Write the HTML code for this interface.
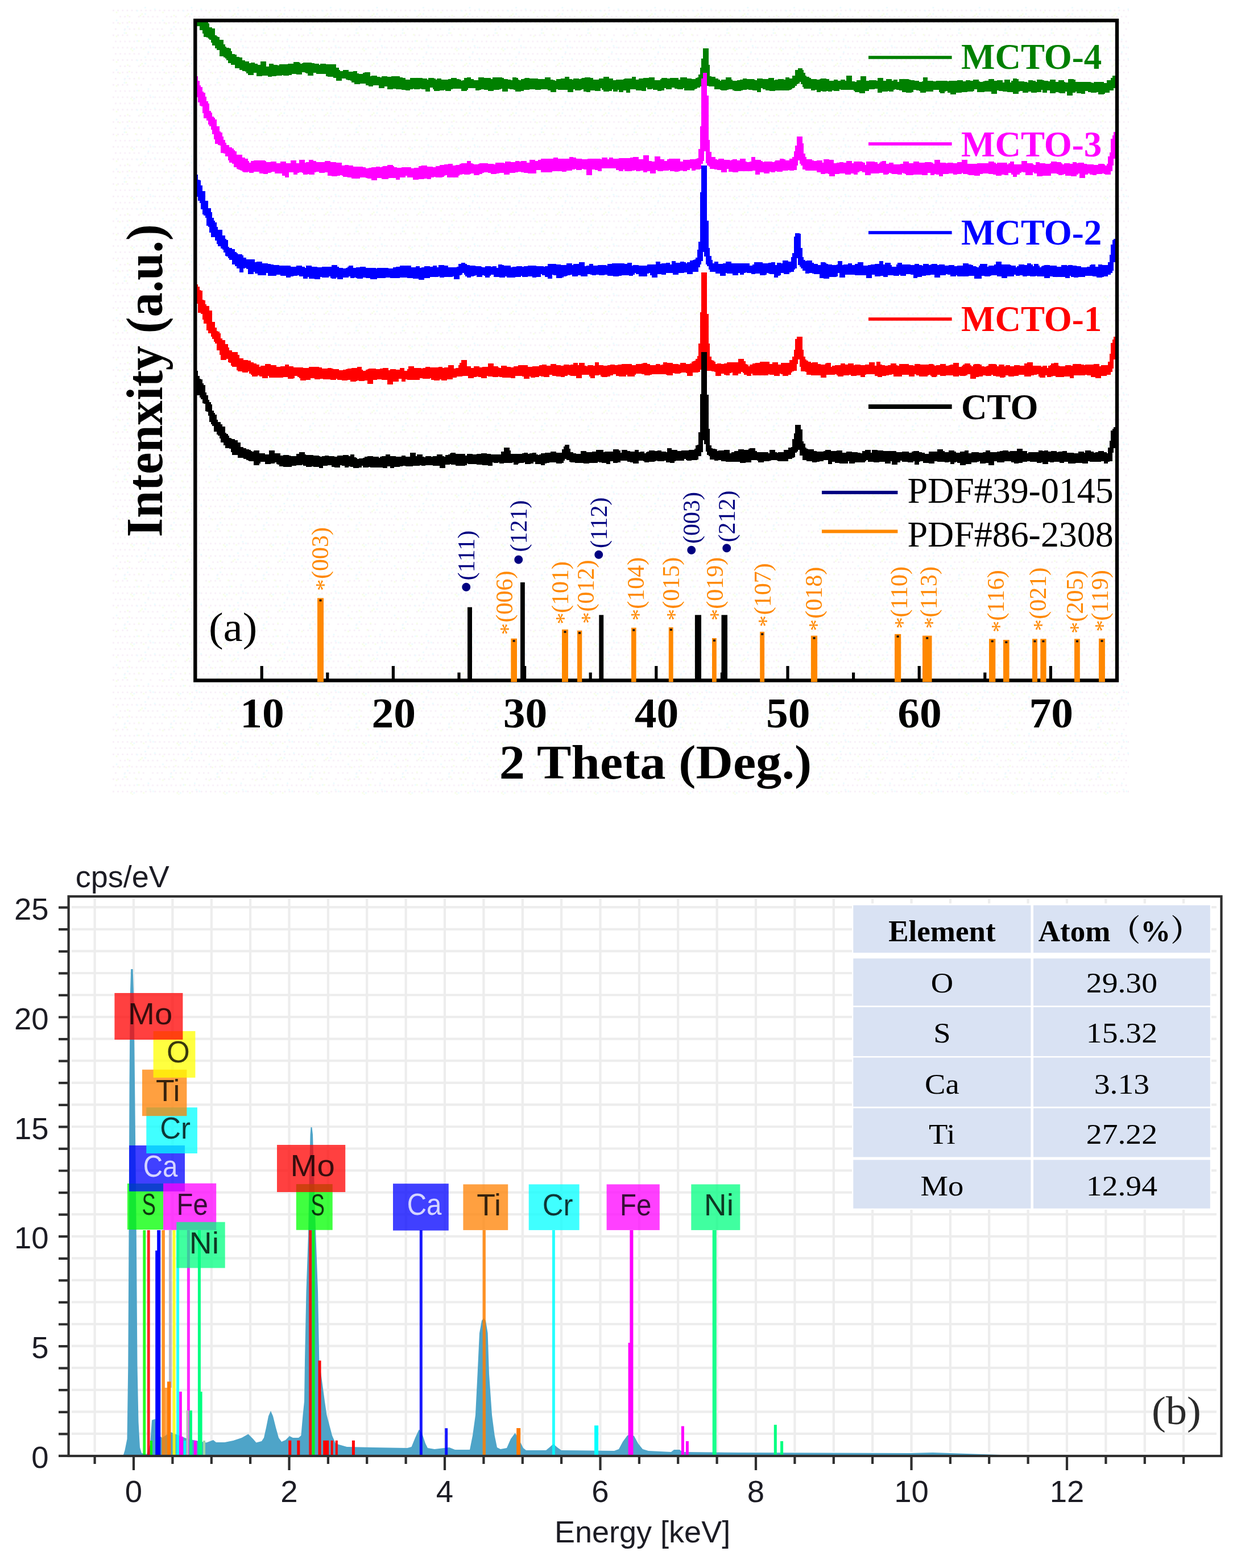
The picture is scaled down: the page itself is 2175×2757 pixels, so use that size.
<!DOCTYPE html>
<html lang="en"><head><meta charset="utf-8"><title>XRD patterns and EDS spectrum</title>
<style>html,body{margin:0;padding:0;background:#fff}body{width:2175px;height:2757px;overflow:hidden}svg{display:block}.se{font-family:"Liberation Serif","Noto Serif CJK SC",serif}.sa{font-family:"Liberation Sans",sans-serif}.dj{font-family:"DejaVu Sans","Liberation Sans",sans-serif}</style></head><body>
<svg width="2175" height="2757" viewBox="0 0 2175 2757">
<rect width="2175" height="2757" fill="#fff"/>
<g id="xrd">
<defs><pattern id="dz" x="198" y="12" width="81.5" height="87.2" patternUnits="userSpaceOnUse"><rect x="0" y="5" width="2.8" height="2.8" fill="#f8eff8"/><rect x="8.2" y="5" width="2.8" height="2.8" fill="#f8eff8"/><rect x="16.3" y="5" width="2.8" height="2.8" fill="#f8eff8"/><rect x="24.5" y="5" width="2.8" height="2.8" fill="#f8eff8"/><rect x="32.6" y="5" width="2.8" height="2.8" fill="#f8eff8"/><rect x="40.8" y="5" width="2.8" height="2.8" fill="#f8eff8"/><rect x="48.9" y="5" width="2.8" height="2.8" fill="#f8eff8"/><rect x="57.1" y="5" width="2.8" height="2.8" fill="#f8eff8"/><rect x="65.2" y="5" width="2.8" height="2.8" fill="#f8eff8"/><rect x="73.4" y="5" width="2.8" height="2.8" fill="#f8eff8"/><rect x="12.2" y="15.9" width="2.8" height="2.8" fill="#f8eff8"/><rect x="20.3" y="15.9" width="2.8" height="2.8" fill="#f8eff8"/><rect x="28.5" y="15.9" width="2.8" height="2.8" fill="#f8eff8"/><rect x="44.8" y="15.9" width="2.8" height="2.8" fill="#f8eff8"/><rect x="52.9" y="15.9" width="2.8" height="2.8" fill="#f8eff8"/><rect x="61.1" y="15.9" width="2.8" height="2.8" fill="#f8eff8"/><rect x="69.2" y="15.9" width="2.8" height="2.8" fill="#f8eff8"/><rect x="77.4" y="15.9" width="2.8" height="2.8" fill="#f8eff8"/><rect x="0" y="26.8" width="2.8" height="2.8" fill="#f8eff8"/><rect x="8.2" y="26.8" width="2.8" height="2.8" fill="#f8eff8"/><rect x="16.3" y="26.8" width="2.8" height="2.8" fill="#f8eff8"/><rect x="24.5" y="26.8" width="2.8" height="2.8" fill="#f8eff8"/><rect x="32.6" y="26.8" width="2.8" height="2.8" fill="#f8eff8"/><rect x="40.8" y="26.8" width="2.8" height="2.8" fill="#f8eff8"/><rect x="48.9" y="26.8" width="2.8" height="2.8" fill="#f8eff8"/><rect x="57.1" y="26.8" width="2.8" height="2.8" fill="#f8eff8"/><rect x="65.2" y="26.8" width="2.8" height="2.8" fill="#f8eff8"/><rect x="73.4" y="26.8" width="2.8" height="2.8" fill="#f8eff8"/><rect x="4" y="37.7" width="2.8" height="2.8" fill="#f8eff8"/><rect x="20.3" y="37.7" width="2.8" height="2.8" fill="#f8eff8"/><rect x="28.5" y="37.7" width="2.8" height="2.8" fill="#f8eff8"/><rect x="36.6" y="37.7" width="2.8" height="2.8" fill="#f8eff8"/><rect x="44.8" y="37.7" width="2.8" height="2.8" fill="#f8eff8"/><rect x="52.9" y="37.7" width="2.8" height="2.8" fill="#f8eff8"/><rect x="69.2" y="37.7" width="2.8" height="2.8" fill="#f8eff8"/><rect x="77.4" y="37.7" width="2.8" height="2.8" fill="#f8eff8"/><rect x="0" y="48.6" width="2.8" height="2.8" fill="#f8eff8"/><rect x="8.2" y="48.6" width="2.8" height="2.8" fill="#f8eff8"/><rect x="16.3" y="48.6" width="2.8" height="2.8" fill="#f8eff8"/><rect x="24.5" y="48.6" width="2.8" height="2.8" fill="#f8eff8"/><rect x="40.8" y="48.6" width="2.8" height="2.8" fill="#f8eff8"/><rect x="48.9" y="48.6" width="2.8" height="2.8" fill="#f8eff8"/><rect x="65.2" y="48.6" width="2.8" height="2.8" fill="#f8eff8"/><rect x="4" y="59.5" width="2.8" height="2.8" fill="#f8eff8"/><rect x="12.2" y="59.5" width="2.8" height="2.8" fill="#f8eff8"/><rect x="20.3" y="59.5" width="2.8" height="2.8" fill="#f8eff8"/><rect x="28.5" y="59.5" width="2.8" height="2.8" fill="#f8eff8"/><rect x="36.6" y="59.5" width="2.8" height="2.8" fill="#f8eff8"/><rect x="52.9" y="59.5" width="2.8" height="2.8" fill="#f8eff8"/><rect x="61.1" y="59.5" width="2.8" height="2.8" fill="#f8eff8"/><rect x="69.2" y="59.5" width="2.8" height="2.8" fill="#f8eff8"/><rect x="77.4" y="59.5" width="2.8" height="2.8" fill="#f8eff8"/><rect x="0" y="70.4" width="2.8" height="2.8" fill="#f8eff8"/><rect x="8.2" y="70.4" width="2.8" height="2.8" fill="#f8eff8"/><rect x="16.3" y="70.4" width="2.8" height="2.8" fill="#f8eff8"/><rect x="24.5" y="70.4" width="2.8" height="2.8" fill="#f8eff8"/><rect x="32.6" y="70.4" width="2.8" height="2.8" fill="#f8eff8"/><rect x="40.8" y="70.4" width="2.8" height="2.8" fill="#f8eff8"/><rect x="48.9" y="70.4" width="2.8" height="2.8" fill="#f8eff8"/><rect x="57.1" y="70.4" width="2.8" height="2.8" fill="#f8eff8"/><rect x="65.2" y="70.4" width="2.8" height="2.8" fill="#f8eff8"/><rect x="73.4" y="70.4" width="2.8" height="2.8" fill="#f8eff8"/><rect x="4" y="81.3" width="2.8" height="2.8" fill="#f8eff8"/><rect x="12.2" y="81.3" width="2.8" height="2.8" fill="#f8eff8"/><rect x="20.3" y="81.3" width="2.8" height="2.8" fill="#f8eff8"/><rect x="28.5" y="81.3" width="2.8" height="2.8" fill="#f8eff8"/><rect x="36.6" y="81.3" width="2.8" height="2.8" fill="#f8eff8"/><rect x="44.8" y="81.3" width="2.8" height="2.8" fill="#f8eff8"/><rect x="61.1" y="81.3" width="2.8" height="2.8" fill="#f8eff8"/><rect x="69.2" y="81.3" width="2.8" height="2.8" fill="#f8eff8"/><rect x="77.4" y="81.3" width="2.8" height="2.8" fill="#f8eff8"/><rect x="5.6" y="22.4" width="2.8" height="2.8" fill="#ebfbff"/><rect x="42" y="5.6" width="2.8" height="2.8" fill="#ebfbff"/><rect x="70" y="70" width="2.8" height="2.8" fill="#ebfbff"/><rect x="42" y="58.8" width="2.8" height="2.8" fill="#ebfbff"/><rect x="56" y="0" width="2.8" height="2.8" fill="#ebfbff"/><rect x="72.8" y="2.8" width="2.8" height="2.8" fill="#ebfbff"/><rect x="64.4" y="67.2" width="2.8" height="2.8" fill="#ebfbff"/><rect x="56" y="11.2" width="2.8" height="2.8" fill="#ebfbff"/><rect x="61.6" y="78.4" width="2.8" height="2.8" fill="#ebfbff"/><rect x="61.6" y="56" width="2.8" height="2.8" fill="#ebfbff"/><rect x="19.6" y="44.8" width="2.8" height="2.8" fill="#ebfbff"/><rect x="36.4" y="72.8" width="2.8" height="2.8" fill="#ebfbff"/><rect x="25.2" y="33.6" width="2.8" height="2.8" fill="#ebfbff"/><rect x="19.6" y="39.2" width="2.8" height="2.8" fill="#ebfbff"/><rect x="44.8" y="36.4" width="2.8" height="2.8" fill="#f6ffe6"/><rect x="22.4" y="44.8" width="2.8" height="2.8" fill="#f6ffe6"/><rect x="47.6" y="14" width="2.8" height="2.8" fill="#f6ffe6"/><rect x="44.8" y="58.8" width="2.8" height="2.8" fill="#f6ffe6"/><rect x="5.6" y="50.4" width="2.8" height="2.8" fill="#f6ffe6"/><rect x="33.6" y="75.6" width="2.8" height="2.8" fill="#f6ffe6"/><rect x="28" y="25.2" width="2.8" height="2.8" fill="#f6ffe6"/><rect x="53.2" y="72.8" width="2.8" height="2.8" fill="#f6ffe6"/><rect x="5.6" y="8.4" width="2.8" height="2.8" fill="#f6ffe6"/><rect x="11.2" y="28" width="2.8" height="2.8" fill="#f6ffe6"/><rect x="39.2" y="47.6" width="2.8" height="2.8" fill="#f6ffe6"/><rect x="30.8" y="72.8" width="2.8" height="2.8" fill="#f6ffe6"/><rect x="50.4" y="11.2" width="2.8" height="2.8" fill="#f6ffe6"/><rect x="25.2" y="14" width="2.8" height="2.8" fill="#f6ffe6"/></pattern></defs>
<rect x="198" y="12" width="1787" height="1385.5" fill="url(#dz)"/>
<clipPath id="cp"><rect x="343.3" y="36.0" width="1620.7" height="1160.4"/></clipPath>
<g clip-path="url(#cp)" shape-rendering="crispEdges">
<path d="M338,24V24H340.5V24H343V23H345.5V22H348V22H350.5V22H353V22H355.5V30H358V36H360.5V36H363V36H365.5V41H368V48H370.5V48H373V50H375.5V50H378V62H380.5V64H383V65H385.5V70H388V70H390.5V70H393V78H395.5V82H398V84H400.5V84H403V85H405.5V90H408V95H410.5V95H413V96H415.5V100H418V100H420.5V101H423V101H425.5V106H428V106H430.5V108H433V108H435.5V108H438V111H440.5V110H443V110H445.5V110H448V112H450.5V112H453V114H455.5V114H458V108H460.5V108H463V108H465.5V108H468V117H470.5V117H473V112H475.5V112H478V112H480.5V114H483V114H485.5V114H488V115H490.5V113H493V113H495.5V113H498V113H500.5V113H503V113H505.5V112H508V112H510.5V112H513V112H515.5V109H518V109H520.5V109H523V109H525.5V110H528V112H530.5V111H533V110H535.5V110H538V110H540.5V110H543V110H545.5V110H548V111H550.5V111H553V112H555.5V112H558V112H560.5V114H563V112H565.5V112H568V112H570.5V112H573V113H575.5V113H578V113H580.5V113H583V113H585.5V113H588V113H590.5V119H593V119H595.5V123H598V125H600.5V125H603V123H605.5V123H608V123H610.5V123H613V126H615.5V126H618V126H620.5V125H623V125H625.5V125H628V129H630.5V130H633V130H635.5V130H638V128H640.5V127H643V127H645.5V127H648V127H650.5V134H653V133H655.5V133H658V133H660.5V133H663V135H665.5V135H668V136H670.5V134H673V134H675.5V134H678V134H680.5V135H683V135H685.5V135H688V134H690.5V134H693V134H695.5V134H698V134H700.5V134H703V136H705.5V136H708V137H710.5V137H713V140H715.5V140H718V140H720.5V137H723V137H725.5V137H728V137H730.5V137H733V137H735.5V137H738V137H740.5V137H743V138H745.5V138H748V138H750.5V140H753V137H755.5V137H758V137H760.5V137H763V138H765.5V140H768V138H770.5V138H773V138H775.5V140H778V140H780.5V140H783V140H785.5V140H788V139H790.5V139H793V137H795.5V137H798V137H800.5V137H803V139H805.5V139H808V140H810.5V142H813V141H815.5V137H818V137H820.5V136H823V136H825.5V136H828V139H830.5V139H833V141H835.5V141H838V141H840.5V136H843V136H845.5V136H848V136H850.5V137H853V137H855.5V137H858V137H860.5V137H863V139H865.5V136H868V136H870.5V136H873V136H875.5V136H878V136H880.5V136H883V137H885.5V139H888V139H890.5V139H893V140H895.5V140H898V141H900.5V136H903V136H905.5V136H908V137H910.5V140H913V141H915.5V139H918V139H920.5V138H923V137H925.5V137H928V137H930.5V138H933V138H935.5V138H938V138H940.5V138H943V138H945.5V139H948V139H950.5V139H953V139H955.5V139H958V136H960.5V136H963V136H965.5V136H968V140H970.5V140H973V141H975.5V142H978V139H980.5V139H983V139H985.5V138H988V138H990.5V138H993V135H995.5V135H998V135H1000.5V139H1003V139H1005.5V140H1008V138H1010.5V138H1013V138H1015.5V138H1018V139H1020.5V138H1023V137H1025.5V137H1028V136H1030.5V136H1033V136H1035.5V136H1038V137H1040.5V137H1043V140H1045.5V140H1048V140H1050.5V140H1053V138H1055.5V138H1058V138H1060.5V135H1063V135H1065.5V135H1068V135H1070.5V138H1073V138H1075.5V138H1078V141H1080.5V141H1083V140H1085.5V140H1088V140H1090.5V140H1093V140H1095.5V139H1098V138H1100.5V138H1103V138H1105.5V138H1108V138H1110.5V135H1113V135H1115.5V135H1118V140H1120.5V140H1123V138H1125.5V138H1128V138H1130.5V137H1133V137H1135.5V137H1138V137H1140.5V136H1143V136H1145.5V136H1148V136H1150.5V141H1153V141H1155.5V141H1158V141H1160.5V139H1163V137H1165.5V137H1168V137H1170.5V137H1173V138H1175.5V138H1178V137H1180.5V137H1183V137H1185.5V137H1188V137H1190.5V137H1193V140H1195.5V136H1198V136H1200.5V136H1203V136H1205.5V136H1208V138H1210.5V138H1213V138H1215.5V139H1218V139H1220.5V139H1223V137H1225.5V136H1228V131H1230.5V119H1233V103H1235.5V85H1238V85H1240.5V85H1243V85H1245.5V114H1248V134H1250.5V135H1253V135H1255.5V135H1258V138H1260.5V138H1263V140H1265.5V142H1268V140H1270.5V140H1273V140H1275.5V136H1278V136H1280.5V136H1283V136H1285.5V140H1288V142H1290.5V142H1293V142H1295.5V141H1298V141H1300.5V140H1303V140H1305.5V138H1308V138H1310.5V138H1313V139H1315.5V139H1318V139H1320.5V139H1323V139H1325.5V140H1328V141H1330.5V138H1333V138H1335.5V138H1338V138H1340.5V139H1343V139H1345.5V139H1348V139H1350.5V137H1353V137H1355.5V137H1358V137H1360.5V141H1363V140H1365.5V140H1368V139H1370.5V139H1373V139H1375.5V139H1378V140H1380.5V136H1383V136H1385.5V136H1388V138H1390.5V138H1393V133H1395.5V133H1398V123H1400.5V123H1403V120H1405.5V120H1408V120H1410.5V123H1413V128H1415.5V133H1418V135H1420.5V135H1423V137H1425.5V139H1428V139H1430.5V139H1433V139H1435.5V140H1438V140H1440.5V139H1443V138H1445.5V138H1448V138H1450.5V138H1453V139H1455.5V139H1458V142H1460.5V142H1463V142H1465.5V140H1468V140H1470.5V140H1473V142H1475.5V142H1478V140H1480.5V140H1483V140H1485.5V142H1488V133H1490.5V133H1493V133H1495.5V133H1498V143H1500.5V143H1503V144H1505.5V141H1508V141H1510.5V141H1513V134H1515.5V134H1518V134H1520.5V134H1523V142H1525.5V142H1528V141H1530.5V141H1533V141H1535.5V141H1538V141H1540.5V142H1543V137H1545.5V137H1548V137H1550.5V137H1553V142H1555.5V142H1558V139H1560.5V139H1563V139H1565.5V139H1568V142H1570.5V140H1573V140H1575.5V140H1578V144H1580.5V139H1583V139H1585.5V139H1588V139H1590.5V139H1593V139H1595.5V139H1598V140H1600.5V141H1603V141H1605.5V141H1608V142H1610.5V142H1613V142H1615.5V144H1618V144H1620.5V143H1623V136H1625.5V136H1628V136H1630.5V142H1633V142H1635.5V142H1638V142H1640.5V143H1643V143H1645.5V142H1648V142H1650.5V142H1653V142H1655.5V142H1658V142H1660.5V142H1663V142H1665.5V143H1668V142H1670.5V142H1673V142H1675.5V142H1678V142H1680.5V142H1683V141H1685.5V141H1688V141H1690.5V141H1693V143H1695.5V143H1698V141H1700.5V141H1703V141H1705.5V142H1708V142H1710.5V140H1713V140H1715.5V140H1718V140H1720.5V143H1723V144H1725.5V144H1728V143H1730.5V142H1733V142H1735.5V142H1738V139H1740.5V139H1743V139H1745.5V139H1748V142H1750.5V142H1753V141H1755.5V141H1758V141H1760.5V141H1763V145H1765.5V140H1768V140H1770.5V140H1773V140H1775.5V145H1778V142H1780.5V138H1783V138H1785.5V138H1788V139H1790.5V143H1793V143H1795.5V143H1798V143H1800.5V144H1803V144H1805.5V145H1808V141H1810.5V141H1813V141H1815.5V142H1818V142H1820.5V144H1823V140H1825.5V140H1828V140H1830.5V140H1833V141H1835.5V142H1838V142H1840.5V142H1843V143H1845.5V140H1848V140H1850.5V140H1853V140H1855.5V144H1858V144H1860.5V141H1863V141H1865.5V141H1868V141H1870.5V144H1873V145H1875.5V145H1878V139H1880.5V139H1883V139H1885.5V139H1888V140H1890.5V144H1893V144H1895.5V144H1898V144H1900.5V144H1903V144H1905.5V144H1908V144H1910.5V144H1913V144H1915.5V144H1918V145H1920.5V146H1923V144H1925.5V144H1928V144H1930.5V144H1933V144H1935.5V144H1938V144H1940.5V146H1943V146H1945.5V141H1948V141H1950.5V141H1953V137H1955.5V133H1958V133H1960.5V133H1963V133H1965.5V24H1968V150H1965.5V150H1963V150H1960.5V155H1958V159H1955.5V159H1953V159H1950.5V163H1948V163H1945.5V163H1943V165H1940.5V166H1938V166H1935.5V166H1933V166H1930.5V162H1928V163H1925.5V163H1923V163H1920.5V163H1918V162H1915.5V162H1913V160H1910.5V160H1908V165H1905.5V165H1903V165H1900.5V164H1898V164H1895.5V164H1893V161H1890.5V163H1888V163H1885.5V168H1883V168H1880.5V168H1878V168H1875.5V161H1873V164H1870.5V164H1868V164H1865.5V164H1863V163H1860.5V162H1858V162H1855.5V164H1853V164H1850.5V164H1848V164H1845.5V159H1843V159H1840.5V163H1838V163H1835.5V163H1833V158H1830.5V162H1828V162H1825.5V162H1823V163H1820.5V163H1818V163H1815.5V163H1813V161H1810.5V161H1808V163H1805.5V163H1803V163H1800.5V163H1798V160H1795.5V160H1793V161H1790.5V165H1788V165H1785.5V165H1783V165H1780.5V162H1778V162H1775.5V162H1773V162H1770.5V161H1768V161H1765.5V161H1763V160H1760.5V160H1758V160H1755.5V159H1753V165H1750.5V165H1748V165H1745.5V165H1743V161H1740.5V161H1738V161H1735.5V161H1733V161H1730.5V162H1728V162H1725.5V162H1723V162H1720.5V162H1718V157H1715.5V157H1713V160H1710.5V161H1708V161H1705.5V161H1703V161H1700.5V162H1698V162H1695.5V162H1693V162H1690.5V163H1688V163H1685.5V163H1683V163H1680.5V166H1678V166H1675.5V166H1673V166H1670.5V163H1668V163H1665.5V160H1663V161H1660.5V164H1658V164H1655.5V164H1653V162H1650.5V158H1648V158H1645.5V158H1643V158H1640.5V161H1638V161H1635.5V161H1633V161H1630.5V161H1628V163H1625.5V163H1623V163H1620.5V163H1618V160H1615.5V159H1613V159H1610.5V158H1608V158H1605.5V162H1603V163H1600.5V163H1598V163H1595.5V163H1593V162H1590.5V162H1588V162H1585.5V159H1583V159H1580.5V158H1578V158H1575.5V157H1573V158H1570.5V161H1568V161H1565.5V161H1563V160H1560.5V161H1558V161H1555.5V161H1553V161H1550.5V163H1548V163H1545.5V163H1543V156H1540.5V156H1538V157H1535.5V157H1533V157H1530.5V157H1528V160H1525.5V160H1523V160H1520.5V164H1518V164H1515.5V164H1513V164H1510.5V162H1508V162H1505.5V162H1503V160H1500.5V158H1498V158H1495.5V158H1493V158H1490.5V158H1488V158H1485.5V158H1483V158H1480.5V158H1478V157H1475.5V160H1473V160H1470.5V160H1468V160H1465.5V159H1463V161H1460.5V161H1458V161H1455.5V160H1453V161H1450.5V161H1448V161H1445.5V160H1443V162H1440.5V162H1438V162H1435.5V158H1433V159H1430.5V159H1428V159H1425.5V156H1423V156H1420.5V156H1418V156H1415.5V156H1413V153H1410.5V148H1408V144H1405.5V147H1403V148H1400.5V151H1398V154H1395.5V155H1393V157H1390.5V158H1388V159H1385.5V159H1383V159H1380.5V159H1378V159H1375.5V159H1373V159H1370.5V159H1368V159H1365.5V159H1363V160H1360.5V160H1358V160H1355.5V160H1353V159H1350.5V159H1348V159H1345.5V157H1343V157H1340.5V155H1338V162H1335.5V162H1333V162H1330.5V159H1328V159H1325.5V159H1323V158H1320.5V158H1318V158H1315.5V157H1313V158H1310.5V158H1308V158H1305.5V159H1303V160H1300.5V160H1298V160H1295.5V160H1293V160H1290.5V159H1288V157H1285.5V157H1283V157H1280.5V158H1278V159H1275.5V159H1273V159H1270.5V159H1268V158H1265.5V157H1263V157H1260.5V157H1258V157H1255.5V152H1253V152H1250.5V152H1248V152H1245.5V151H1243V145H1240.5V139H1238V143H1235.5V151H1233V152H1230.5V154H1228V154H1225.5V156H1223V157H1220.5V159H1218V159H1215.5V159H1213V159H1210.5V159H1208V159H1205.5V159H1203V155H1200.5V157H1198V157H1195.5V157H1193V157H1190.5V156H1188V156H1185.5V154H1183V154H1180.5V157H1178V157H1175.5V157H1173V157H1170.5V155H1168V159H1165.5V159H1163V160H1160.5V160H1158V160H1155.5V158H1153V158H1150.5V158H1148V156H1145.5V157H1143V157H1140.5V157H1138V154H1135.5V160H1133V160H1130.5V160H1128V159H1125.5V159H1123V159H1120.5V159H1118V157H1115.5V157H1113V157H1110.5V157H1108V163H1105.5V163H1103V163H1100.5V159H1098V159H1095.5V162H1093V162H1090.5V162H1088V158H1085.5V161H1083V161H1080.5V161H1078V157H1075.5V160H1073V160H1070.5V161H1068V161H1065.5V161H1063V161H1060.5V158H1058V155H1055.5V160H1053V160H1050.5V160H1048V160H1045.5V159H1043V159H1040.5V159H1038V162H1035.5V162H1033V162H1030.5V161H1028V161H1025.5V157H1023V158H1020.5V159H1018V159H1015.5V159H1013V159H1010.5V157H1008V162H1005.5V162H1003V162H1000.5V162H998V158H995.5V158H993V158H990.5V158H988V158H985.5V158H983V158H980.5V157H978V162H975.5V162H973V162H970.5V162H968V159H965.5V159H963V157H960.5V157H958V157H955.5V157H953V157H950.5V158H948V158H945.5V158H943V158H940.5V157H938V157H935.5V157H933V157H930.5V158H928V158H925.5V158H923V158H920.5V160H918V160H915.5V161H913V161H910.5V161H908V161H905.5V158H903V157H900.5V157H898V157H895.5V156H893V161H890.5V161H888V161H885.5V161H883V156H880.5V157H878V158H875.5V158H873V158H870.5V158H868V160H865.5V160H863V160H860.5V160H858V158H855.5V158H853V158H850.5V157H848V157H845.5V158H843V159H840.5V159H838V159H835.5V155H833V155H830.5V155H828V155H825.5V155H823V158H820.5V160H818V160H815.5V160H813V160H810.5V156H808V156H805.5V156H803V156H800.5V156H798V156H795.5V157H793V160H790.5V160H788V160H785.5V160H783V158H780.5V159H778V159H775.5V159H773V160H770.5V160H768V160H765.5V160H763V157H760.5V154H758V154H755.5V161H753V161H750.5V161H748V157H745.5V157H743V157H740.5V156H738V157H735.5V157H733V157H730.5V157H728V156H725.5V157H723V157H720.5V159H718V159H715.5V159H713V158H710.5V158H708V158H705.5V157H703V157H700.5V157H698V157H695.5V156H693V156H690.5V157H688V157H685.5V157H683V157H680.5V152H678V152H675.5V155H673V155H670.5V155H668V155H665.5V150H663V150H660.5V150H658V150H655.5V152H653V152H650.5V152H648V150H645.5V150H643V147H640.5V147H638V147H635.5V147H633V148H630.5V148H628V148H625.5V148H623V145H620.5V145H618V142H615.5V141H613V141H610.5V140H608V138H605.5V138H603V138H600.5V142H598V142H595.5V142H593V142H590.5V137H588V137H585.5V135H583V135H580.5V135H578V135H575.5V134H573V130H570.5V130H568V130H565.5V130H563V130H560.5V130H558V130H555.5V128H553V128H550.5V133H548V133H545.5V133H543V133H540.5V129H538V128H535.5V127H533V127H530.5V131H528V131H525.5V131H523V131H520.5V130H518V130H515.5V130H513V132H510.5V132H508V133H505.5V133H503V133H500.5V133H498V132H495.5V133H493V133H490.5V133H488V133H485.5V134H483V134H480.5V134H478V135H475.5V135H473V135H470.5V133H468V133H465.5V133H463V133H460.5V134H458V134H455.5V134H453V134H450.5V128H448V128H445.5V132H443V132H440.5V132H438V132H435.5V129H433V126H430.5V125H428V125H425.5V123H423V123H420.5V120H418V120H415.5V120H413V114H410.5V114H408V114H405.5V111H403V111H400.5V106H398V103H395.5V101H393V99H390.5V99H388V99H385.5V88H383V88H380.5V85H378V80H375.5V80H373V75H370.5V70H368V68H365.5V66H363V65H360.5V65H358V59H355.5V53H353V53H350.5V46H348V46H345.5V47H343V47H340.5V150H338Z" fill="#008000"/>
<path d="M338,126V126H340.5V126H343V133H345.5V134H348V142H350.5V150H353V153H355.5V161H358V163H360.5V170H363V178H365.5V182H368V195H370.5V198H373V205H375.5V207H378V210H380.5V222H383V222H385.5V231H388V233H390.5V240H393V246H395.5V251H398V255H400.5V255H403V259H405.5V259H408V261H410.5V264H413V266H415.5V272H418V272H420.5V272H423V272H425.5V277H428V277H430.5V279H433V279H435.5V283H438V286H440.5V283H443V283H445.5V282H448V282H450.5V282H453V282H455.5V282H458V282H460.5V282H463V282H465.5V283H468V285H470.5V285H473V285H475.5V284H478V284H480.5V284H483V284H485.5V287H488V287H490.5V287H493V284H495.5V284H498V284H500.5V284H503V287H505.5V287H508V287H510.5V282H513V282H515.5V282H518V282H520.5V287H523V287H525.5V281H528V281H530.5V281H533V281H535.5V286H538V285H540.5V285H543V281H545.5V281H548V281H550.5V283H553V283H555.5V285H558V285H560.5V285H563V285H565.5V285H568V285H570.5V283H573V283H575.5V283H578V283H580.5V285H583V285H585.5V285H588V285H590.5V286H593V286H595.5V286H598V286H600.5V291H603V291H605.5V290H608V290H610.5V290H613V291H615.5V291H618V291H620.5V293H623V293H625.5V293H628V293H630.5V293H633V293H635.5V293H638V294H640.5V294H643V296H645.5V296H648V295H650.5V295H653V294H655.5V294H658V294H660.5V293H663V293H665.5V293H668V294H670.5V293H673V292H675.5V292H678V292H680.5V290H683V290H685.5V290H688V290H690.5V292H693V294H695.5V294H698V295H700.5V295H703V295H705.5V294H708V294H710.5V294H713V294H715.5V294H718V294H720.5V294H723V296H725.5V296H728V295H730.5V295H733V295H735.5V292H738V292H740.5V291H743V291H745.5V291H748V291H750.5V293H753V293H755.5V293H758V293H760.5V294H763V294H765.5V292H768V292H770.5V292H773V290H775.5V290H778V290H780.5V289H783V289H785.5V289H788V288H790.5V288H793V288H795.5V291H798V291H800.5V290H803V290H805.5V290H808V288H810.5V287H813V287H815.5V287H818V287H820.5V283H823V283H825.5V283H828V287H830.5V288H833V289H835.5V289H838V289H840.5V288H843V287H845.5V287H848V287H850.5V287H853V287H855.5V287H858V288H860.5V288H863V288H865.5V288H868V289H870.5V286H873V286H875.5V286H878V286H880.5V286H883V286H885.5V287H888V284H890.5V284H893V284H895.5V284H898V285H900.5V285H903V285H905.5V283H908V283H910.5V283H913V284H915.5V283H918V283H920.5V283H923V283H925.5V286H928V286H930.5V281H933V281H935.5V281H938V281H940.5V283H943V283H945.5V281H948V281H950.5V279H953V279H955.5V279H958V279H960.5V279H963V279H965.5V279H968V279H970.5V279H973V277H975.5V277H978V277H980.5V279H983V279H985.5V279H988V279H990.5V279H993V279H995.5V279H998V279H1000.5V276H1003V276H1005.5V276H1008V277H1010.5V277H1013V279H1015.5V279H1018V279H1020.5V279H1023V280H1025.5V280H1028V280H1030.5V280H1033V279H1035.5V279H1038V279H1040.5V279H1043V279H1045.5V279H1048V279H1050.5V279H1053V279H1055.5V280H1058V277H1060.5V277H1063V277H1065.5V277H1068V280H1070.5V277H1073V277H1075.5V277H1078V279H1080.5V279H1083V279H1085.5V279H1088V278H1090.5V278H1093V278H1095.5V278H1098V278H1100.5V278H1103V278H1105.5V278H1108V277H1110.5V277H1113V276H1115.5V276H1118V276H1120.5V276H1123V280H1125.5V280H1128V280H1130.5V273H1133V273H1135.5V273H1138V273H1140.5V283H1143V283H1145.5V284H1148V284H1150.5V275H1153V275H1155.5V275H1158V275H1160.5V280H1163V280H1165.5V280H1168V283H1170.5V283H1173V280H1175.5V279H1178V279H1180.5V279H1183V279H1185.5V279H1188V279H1190.5V279H1193V279H1195.5V284H1198V284H1200.5V281H1203V281H1205.5V281H1208V281H1210.5V281H1213V280H1215.5V280H1218V280H1220.5V280H1223V279H1225.5V278H1228V262H1230.5V222H1233V138H1235.5V128H1238V128H1240.5V128H1243V168H1245.5V246H1248V267H1250.5V276H1253V276H1255.5V276H1258V280H1260.5V281H1263V279H1265.5V279H1268V279H1270.5V279H1273V281H1275.5V281H1278V281H1280.5V281H1283V282H1285.5V281H1288V280H1290.5V280H1293V280H1295.5V282H1298V282H1300.5V279H1303V279H1305.5V279H1308V279H1310.5V284H1313V285H1315.5V285H1318V284H1320.5V276H1323V276H1325.5V276H1328V281H1330.5V281H1333V281H1335.5V281H1338V283H1340.5V285H1343V284H1345.5V284H1348V284H1350.5V284H1353V284H1355.5V284H1358V285H1360.5V284H1363V282H1365.5V282H1368V282H1370.5V279H1373V279H1375.5V279H1378V280H1380.5V282H1383V282H1385.5V282H1388V279H1390.5V279H1393V276H1395.5V266H1398V256H1400.5V240H1403V240H1405.5V240H1408V240H1410.5V252H1413V270H1415.5V276H1418V280H1420.5V280H1423V280H1425.5V280H1428V282H1430.5V283H1433V283H1435.5V282H1438V282H1440.5V282H1443V282H1445.5V286H1448V280H1450.5V280H1453V280H1455.5V280H1458V281H1460.5V281H1463V281H1465.5V287H1468V287H1470.5V286H1473V286H1475.5V285H1478V285H1480.5V285H1483V286H1485.5V286H1488V283H1490.5V283H1493V283H1495.5V283H1498V287H1500.5V284H1503V284H1505.5V284H1508V284H1510.5V284H1513V284H1515.5V285H1518V286H1520.5V290H1523V284H1525.5V284H1528V284H1530.5V284H1533V284H1535.5V284H1538V285H1540.5V285H1543V288H1545.5V286H1548V284H1550.5V283H1553V283H1555.5V283H1558V288H1560.5V288H1563V286H1565.5V286H1568V286H1570.5V289H1573V289H1575.5V289H1578V289H1580.5V289H1583V288H1585.5V288H1588V284H1590.5V284H1593V284H1595.5V284H1598V287H1600.5V287H1603V287H1605.5V284H1608V284H1610.5V284H1613V284H1615.5V286H1618V286H1620.5V286H1623V286H1625.5V285H1628V285H1630.5V285H1633V285H1635.5V285H1638V286H1640.5V288H1643V281H1645.5V281H1648V281H1650.5V281H1653V286H1655.5V286H1658V286H1660.5V286H1663V287H1665.5V286H1668V286H1670.5V286H1673V286H1675.5V287H1678V287H1680.5V287H1683V285H1685.5V285H1688V285H1690.5V281H1693V281H1695.5V281H1698V281H1700.5V288H1703V288H1705.5V288H1708V288H1710.5V288H1713V288H1715.5V288H1718V287H1720.5V287H1723V287H1725.5V287H1728V287H1730.5V287H1733V287H1735.5V287H1738V284H1740.5V284H1743V284H1745.5V284H1748V286H1750.5V288H1753V286H1755.5V286H1758V286H1760.5V286H1763V286H1765.5V286H1768V286H1770.5V289H1773V287H1775.5V284H1778V284H1780.5V284H1783V289H1785.5V289H1788V289H1790.5V289H1793V289H1795.5V283H1798V283H1800.5V283H1803V283H1805.5V287H1808V287H1810.5V287H1813V287H1815.5V289H1818V290H1820.5V285H1823V285H1825.5V285H1828V287H1830.5V287H1833V287H1835.5V287H1838V288H1840.5V288H1843V288H1845.5V287H1848V284H1850.5V284H1853V284H1855.5V284H1858V285H1860.5V285H1863V285H1865.5V287H1868V289H1870.5V287H1873V287H1875.5V287H1878V287H1880.5V288H1883V288H1885.5V285H1888V285H1890.5V285H1893V287H1895.5V286H1898V286H1900.5V286H1903V286H1905.5V288H1908V288H1910.5V289H1913V289H1915.5V289H1918V289H1920.5V289H1923V290H1925.5V290H1928V290H1930.5V288H1933V288H1935.5V288H1938V288H1940.5V289H1943V291H1945.5V288H1948V275H1950.5V268H1953V244H1955.5V238H1958V232H1960.5V229H1963V228H1965.5V126H1968V247H1965.5V248H1963V266H1960.5V279H1958V291H1955.5V301H1953V307H1950.5V307H1948V307H1945.5V307H1943V306H1940.5V305H1938V306H1935.5V306H1933V306H1930.5V306H1928V308H1925.5V308H1923V308H1920.5V307H1918V307H1915.5V305H1913V307H1910.5V307H1908V313H1905.5V313H1903V313H1900.5V313H1898V305H1895.5V307H1893V310H1890.5V310H1888V310H1885.5V310H1883V309H1880.5V309H1878V309H1875.5V309H1873V306H1870.5V307H1868V308H1865.5V308H1863V308H1860.5V306H1858V305H1855.5V305H1853V305H1850.5V305H1848V309H1845.5V309H1843V309H1840.5V309H1838V309H1835.5V309H1833V310H1830.5V310H1828V310H1825.5V310H1823V305H1820.5V305H1818V303H1815.5V308H1813V308H1810.5V308H1808V308H1805.5V308H1803V303H1800.5V303H1798V302H1795.5V304H1793V307H1790.5V307H1788V311H1785.5V311H1783V311H1780.5V307H1778V304H1775.5V304H1773V308H1770.5V308H1768V308H1765.5V307H1763V307H1760.5V309H1758V309H1755.5V309H1753V309H1750.5V307H1748V307H1745.5V306H1743V306H1740.5V306H1738V305H1735.5V305H1733V305H1730.5V305H1728V306H1725.5V306H1723V309H1720.5V309H1718V309H1715.5V309H1713V308H1710.5V308H1708V308H1705.5V308H1703V307H1700.5V306H1698V306H1695.5V306H1693V304H1690.5V306H1688V306H1685.5V306H1683V307H1680.5V307H1678V307H1675.5V305H1673V305H1670.5V305H1668V306H1665.5V306H1663V306H1660.5V306H1658V310H1655.5V310H1653V310H1650.5V307H1648V307H1645.5V306H1643V308H1640.5V308H1638V308H1635.5V304H1633V304H1630.5V308H1628V308H1625.5V308H1623V308H1620.5V307H1618V307H1615.5V307H1613V307H1610.5V307H1608V307H1605.5V308H1603V308H1600.5V308H1598V308H1595.5V308H1593V306H1590.5V305H1588V304H1585.5V307H1583V307H1580.5V307H1578V306H1575.5V306H1573V306H1570.5V306H1568V305H1565.5V304H1563V306H1560.5V307H1558V307H1555.5V307H1553V304H1550.5V304H1548V304H1545.5V305H1543V305H1540.5V305H1538V305H1535.5V305H1533V305H1530.5V308H1528V308H1525.5V308H1523V308H1520.5V303H1518V303H1515.5V301H1513V301H1510.5V303H1508V307H1505.5V307H1503V307H1500.5V305H1498V305H1495.5V307H1493V307H1490.5V307H1488V307H1485.5V305H1483V305H1480.5V305H1478V305H1475.5V306H1473V306H1470.5V306H1468V310H1465.5V310H1463V310H1460.5V310H1458V306H1455.5V305H1453V305H1450.5V306H1448V306H1445.5V306H1443V303H1440.5V303H1438V303H1435.5V300H1433V300H1430.5V300H1428V300H1425.5V300H1423V300H1420.5V300H1418V300H1415.5V298H1413V298H1410.5V291H1408V288H1405.5V282H1403V291H1400.5V299H1398V299H1395.5V300H1393V300H1390.5V300H1388V299H1385.5V300H1383V300H1380.5V300H1378V300H1375.5V302H1373V302H1370.5V302H1368V302H1365.5V301H1363V303H1360.5V303H1358V303H1355.5V302H1353V305H1350.5V305H1348V305H1345.5V305H1343V303H1340.5V303H1338V303H1335.5V307H1333V307H1330.5V307H1328V300H1325.5V300H1323V301H1320.5V301H1318V301H1315.5V301H1313V301H1310.5V301H1308V301H1305.5V301H1303V301H1300.5V301H1298V303H1295.5V303H1293V303H1290.5V303H1288V302H1285.5V302H1283V302H1280.5V297H1278V303H1275.5V303H1273V303H1270.5V303H1268V299H1265.5V299H1263V299H1260.5V298H1258V298H1255.5V297H1253V297H1250.5V297H1248V293H1245.5V291H1243V287H1240.5V266H1238V283H1235.5V288H1233V297H1230.5V298H1228V298H1225.5V298H1223V300H1220.5V300H1218V300H1215.5V296H1213V299H1210.5V299H1208V301H1205.5V301H1203V301H1200.5V300H1198V300H1195.5V301H1193V302H1190.5V302H1188V302H1185.5V301H1183V301H1180.5V301H1178V299H1175.5V300H1173V300H1170.5V300H1168V300H1165.5V301H1163V301H1160.5V301H1158V301H1155.5V299H1153V305H1150.5V305H1148V305H1145.5V305H1143V301H1140.5V301H1138V303H1135.5V303H1133V303H1130.5V300H1128V300H1125.5V301H1123V301H1120.5V301H1118V299H1115.5V300H1113V300H1110.5V301H1108V301H1105.5V301H1103V301H1100.5V301H1098V298H1095.5V301H1093V301H1090.5V301H1088V299H1085.5V299H1083V296H1080.5V296H1078V296H1075.5V296H1073V296H1070.5V296H1068V296H1065.5V296H1063V296H1060.5V296H1058V301H1055.5V301H1053V301H1050.5V299H1048V299H1045.5V298H1043V298H1040.5V308H1038V308H1035.5V308H1033V308H1030.5V298H1028V298H1025.5V297H1023V299H1020.5V299H1018V299H1015.5V299H1013V297H1010.5V298H1008V298H1005.5V300H1003V300H1000.5V300H998V300H995.5V302H993V302H990.5V302H988V301H985.5V301H983V301H980.5V301H978V301H975.5V301H973V301H970.5V303H968V303H965.5V303H963V303H960.5V303H958V303H955.5V303H953V303H950.5V299H948V299H945.5V299H943V305H940.5V305H938V305H935.5V305H933V305H930.5V305H928V304H925.5V304H923V304H920.5V303H918V303H915.5V302H913V302H910.5V303H908V303H905.5V304H903V304H900.5V304H898V304H895.5V307H893V307H890.5V307H888V307H885.5V304H883V304H880.5V304H878V305H875.5V305H873V306H870.5V306H868V306H865.5V306H863V304H860.5V304H858V303H855.5V303H853V303H850.5V304H848V306H845.5V306H843V308H840.5V308H838V308H835.5V308H833V305H830.5V305H828V306H825.5V307H823V307H820.5V307H818V307H815.5V306H813V307H810.5V307H808V309H805.5V312H803V312H800.5V312H798V312H795.5V312H793V312H790.5V312H788V312H785.5V308H783V309H780.5V311H778V312H775.5V312H773V312H770.5V312H768V312H765.5V311H763V312H760.5V312H758V315H755.5V315H753V315H750.5V314H748V314H745.5V315H743V315H740.5V315H738V315H735.5V316H733V316H730.5V316H728V316H725.5V312H723V312H720.5V312H718V312H715.5V309H713V312H710.5V312H708V312H705.5V312H703V316H700.5V316H698V316H695.5V313H693V313H690.5V313H688V313H685.5V313H683V315H680.5V315H678V315H675.5V315H673V315H670.5V313H668V313H665.5V313H663V317H660.5V317H658V317H655.5V317H653V314H650.5V314H648V314H645.5V313H643V312H640.5V312H638V312H635.5V312H633V314H630.5V314H628V314H625.5V314H623V314H620.5V314H618V312H615.5V312H613V312H610.5V311H608V311H605.5V311H603V309H600.5V308H598V309H595.5V309H593V310H590.5V310H588V310H585.5V310H583V309H580.5V309H578V309H575.5V303H573V303H570.5V304H568V304H565.5V304H563V304H560.5V302H558V302H555.5V303H553V307H550.5V307H548V307H545.5V307H543V306H540.5V307H538V307H535.5V307H533V304H530.5V303H528V303H525.5V304H523V307H520.5V307H518V307H515.5V303H513V303H510.5V303H508V312H505.5V312H503V312H500.5V309H498V309H495.5V305H493V305H490.5V305H488V305H485.5V305H483V302H480.5V302H478V303H475.5V304H473V304H470.5V306H468V306H465.5V306H463V305H460.5V305H458V305H455.5V302H453V302H450.5V302H448V302H445.5V304H443V304H440.5V304H438V302H435.5V303H433V303H430.5V303H428V302H425.5V300H423V299H420.5V298H418V297H415.5V294H413V294H410.5V288H408V286H405.5V286H403V282H400.5V275H398V275H395.5V270H393V269H390.5V269H388V256H385.5V255H383V253H380.5V253H378V245H375.5V236H373V228H370.5V222H368V219H365.5V212H363V208H360.5V208H358V199H355.5V187H353V186H350.5V180H348V171H345.5V171H343V168H340.5V245H338Z" fill="#ff00ff"/>
<path d="M338,294V294H340.5V294H343V306H345.5V307H348V316H350.5V317H353V326H355.5V336H358V336H360.5V353H363V353H365.5V366H368V366H370.5V373H373V383H375.5V388H378V391H380.5V399H383V404H385.5V404H388V404H390.5V414H393V414H395.5V420H398V422H400.5V434H403V436H405.5V436H408V438H410.5V438H413V443H415.5V445H418V447H420.5V447H423V447H425.5V449H428V453H430.5V453H433V456H435.5V456H438V456H440.5V456H443V456H445.5V456H448V461H450.5V460H453V460H455.5V460H458V460H460.5V463H463V463H465.5V463H468V463H470.5V464H473V464H475.5V465H478V465H480.5V466H483V466H485.5V466H488V466H490.5V467H493V467H495.5V467H498V467H500.5V467H503V467H505.5V467H508V467H510.5V469H513V469H515.5V469H518V469H520.5V467H523V467H525.5V467H528V467H530.5V469H533V469H535.5V471H538V467H540.5V467H543V467H545.5V467H548V469H550.5V469H553V469H555.5V469H558V470H560.5V470H563V470H565.5V469H568V469H570.5V469H573V469H575.5V469H578V469H580.5V469H583V466H585.5V466H588V466H590.5V466H593V469H595.5V471H598V471H600.5V471H603V472H605.5V472H608V471H610.5V469H613V467H615.5V467H618V467H620.5V471H623V471H625.5V470H628V470H630.5V470H633V469H635.5V469H638V469H640.5V469H643V471H645.5V471H648V471H650.5V471H653V471H655.5V471H658V471H660.5V472H663V471H665.5V471H668V471H670.5V471H673V471H675.5V471H678V471H680.5V471H683V472H685.5V472H688V472H690.5V470H693V470H695.5V469H698V469H700.5V469H703V467H705.5V467H708V467H710.5V467H713V467H715.5V467H718V467H720.5V467H723V470H725.5V470H728V470H730.5V468H733V468H735.5V468H738V471H740.5V470H743V470H745.5V468H748V468H750.5V468H753V468H755.5V469H758V469H760.5V467H763V467H765.5V467H768V470H770.5V466H773V466H775.5V466H778V466H780.5V467H783V467H785.5V467H788V470H790.5V470H793V470H795.5V470H798V470H800.5V470H803V469H805.5V464H808V464H810.5V462H813V462H815.5V462H818V464H820.5V466H823V466H825.5V467H828V467H830.5V467H833V467H835.5V468H838V468H840.5V468H843V468H845.5V469H848V470H850.5V470H853V468H855.5V468H858V468H860.5V468H863V469H865.5V468H868V468H870.5V468H873V471H875.5V465H878V465H880.5V465H883V466H885.5V467H888V467H890.5V467H893V467H895.5V467H898V470H900.5V469H903V469H905.5V469H908V468H910.5V468H913V468H915.5V468H918V469H920.5V468H923V468H925.5V468H928V467H930.5V467H933V467H935.5V467H938V467H940.5V467H943V468H945.5V468H948V468H950.5V468H953V468H955.5V469H958V468H960.5V468H963V464H965.5V464H968V464H970.5V464H973V464H975.5V464H978V465H980.5V465H983V465H985.5V466H988V466H990.5V466H993V466H995.5V463H998V463H1000.5V463H1003V463H1005.5V466H1008V464H1010.5V464H1013V464H1015.5V464H1018V461H1020.5V461H1023V461H1025.5V461H1028V468H1030.5V467H1033V467H1035.5V464H1038V464H1040.5V464H1043V467H1045.5V467H1048V467H1050.5V466H1053V466H1055.5V466H1058V466H1060.5V466H1063V466H1065.5V467H1068V464H1070.5V464H1073V464H1075.5V463H1078V463H1080.5V463H1083V463H1085.5V463H1088V463H1090.5V463H1093V463H1095.5V463H1098V464H1100.5V464H1103V462H1105.5V462H1108V462H1110.5V467H1113V466H1115.5V466H1118V466H1120.5V466H1123V467H1125.5V467H1128V467H1130.5V467H1133V467H1135.5V467H1138V465H1140.5V465H1143V465H1145.5V465H1148V465H1150.5V465H1153V460H1155.5V460H1158V460H1160.5V464H1163V463H1165.5V463H1168V463H1170.5V462H1173V462H1175.5V462H1178V465H1180.5V459H1183V459H1185.5V459H1188V462H1190.5V462H1193V462H1195.5V460H1198V460H1200.5V460H1203V461H1205.5V463H1208V461H1210.5V461H1213V458H1215.5V458H1218V457H1220.5V456H1223V453H1225.5V439H1228V425H1230.5V338H1233V291H1235.5V291H1238V291H1240.5V291H1243V388H1245.5V436H1248V450H1250.5V457H1253V463H1255.5V460H1258V460H1260.5V460H1263V464H1265.5V464H1268V464H1270.5V463H1273V463H1275.5V460H1278V460H1280.5V460H1283V460H1285.5V463H1288V463H1290.5V463H1293V463H1295.5V463H1298V463H1300.5V463H1303V463H1305.5V463H1308V463H1310.5V463H1313V463H1315.5V463H1318V467H1320.5V467H1323V465H1325.5V461H1328V461H1330.5V461H1333V461H1335.5V461H1338V461H1340.5V463H1343V463H1345.5V463H1348V463H1350.5V462H1353V462H1355.5V461H1358V461H1360.5V461H1363V466H1365.5V462H1368V462H1370.5V462H1373V463H1375.5V458H1378V458H1380.5V458H1383V458H1385.5V460H1388V460H1390.5V452H1393V445H1395.5V416H1398V410H1400.5V410H1403V410H1405.5V411H1408V436H1410.5V452H1413V457H1415.5V459H1418V458H1420.5V458H1423V458H1425.5V458H1428V462H1430.5V464H1433V464H1435.5V464H1438V466H1440.5V466H1443V461H1445.5V461H1448V461H1450.5V462H1453V464H1455.5V465H1458V465H1460.5V465H1463V466H1465.5V466H1468V466H1470.5V465H1473V459H1475.5V459H1478V459H1480.5V466H1483V465H1485.5V465H1488V465H1490.5V463H1493V463H1495.5V463H1498V466H1500.5V466H1503V464H1505.5V464H1508V461H1510.5V461H1513V461H1515.5V461H1518V467H1520.5V467H1523V467H1525.5V466H1528V466H1530.5V465H1533V465H1535.5V465H1538V464H1540.5V464H1543V464H1545.5V459H1548V459H1550.5V459H1553V465H1555.5V462H1558V462H1560.5V462H1563V462H1565.5V466H1568V469H1570.5V469H1573V469H1575.5V465H1578V462H1580.5V462H1583V462H1585.5V465H1588V465H1590.5V465H1593V465H1595.5V465H1598V465H1600.5V466H1603V466H1605.5V466H1608V464H1610.5V464H1613V464H1615.5V466H1618V466H1620.5V467H1623V464H1625.5V464H1628V464H1630.5V464H1633V466H1635.5V465H1638V464H1640.5V464H1643V464H1645.5V464H1648V466H1650.5V465H1653V465H1655.5V465H1658V465H1660.5V467H1663V467H1665.5V467H1668V466H1670.5V466H1673V466H1675.5V466H1678V468H1680.5V468H1683V467H1685.5V467H1688V467H1690.5V467H1693V463H1695.5V463H1698V463H1700.5V463H1703V465H1705.5V465H1708V466H1710.5V468H1713V468H1715.5V469H1718V470H1720.5V467H1723V464H1725.5V464H1728V464H1730.5V464H1733V464H1735.5V469H1738V467H1740.5V467H1743V467H1745.5V467H1748V465H1750.5V460H1753V460H1755.5V460H1758V460H1760.5V465H1763V465H1765.5V465H1768V465H1770.5V465H1773V465H1775.5V466H1778V467H1780.5V467H1783V467H1785.5V470H1788V468H1790.5V465H1793V465H1795.5V465H1798V465H1800.5V466H1803V466H1805.5V463H1808V463H1810.5V463H1813V465H1815.5V468H1818V464H1820.5V464H1823V464H1825.5V467H1828V470H1830.5V468H1833V467H1835.5V466H1838V466H1840.5V466H1843V466H1845.5V467H1848V467H1850.5V467H1853V467H1855.5V467H1858V469H1860.5V469H1863V469H1865.5V466H1868V466H1870.5V466H1873V466H1875.5V467H1878V466H1880.5V466H1883V466H1885.5V467H1888V467H1890.5V467H1893V468H1895.5V468H1898V468H1900.5V470H1903V470H1905.5V470H1908V470H1910.5V469H1913V469H1915.5V466H1918V465H1920.5V465H1923V465H1925.5V469H1928V469H1930.5V465H1933V465H1935.5V465H1938V466H1940.5V466H1943V466H1945.5V466H1948V461H1950.5V448H1953V430H1955.5V422H1958V420H1960.5V417H1963V417H1965.5V294H1968V435H1965.5V436H1963V443H1960.5V461H1958V476H1955.5V480H1953V483H1950.5V483H1948V486H1945.5V486H1943V486H1940.5V487H1938V488H1935.5V488H1933V488H1930.5V488H1928V486H1925.5V486H1923V486H1920.5V485H1918V485H1915.5V485H1913V485H1910.5V485H1908V487H1905.5V487H1903V487H1900.5V487H1898V487H1895.5V488H1893V488H1890.5V488H1888V487H1885.5V487H1883V485H1880.5V489H1878V489H1875.5V489H1873V487H1870.5V487H1868V487H1865.5V487H1863V487H1860.5V487H1858V487H1855.5V487H1853V487H1850.5V486H1848V486H1845.5V489H1843V489H1840.5V489H1838V489H1835.5V486H1833V486H1830.5V486H1828V486H1825.5V486H1823V485H1820.5V486H1818V486H1815.5V486H1813V486H1810.5V485H1808V485H1805.5V486H1803V486H1800.5V486H1798V484H1795.5V484H1793V485H1790.5V485H1788V485H1785.5V483H1783V486H1780.5V486H1778V486H1775.5V486H1773V486H1770.5V489H1768V489H1765.5V489H1763V489H1760.5V486H1758V486H1755.5V486H1753V484H1750.5V484H1748V484H1745.5V484H1743V485H1740.5V486H1738V486H1735.5V486H1733V486H1730.5V485H1728V485H1725.5V490H1723V490H1720.5V490H1718V490H1715.5V490H1713V485H1710.5V485H1708V485H1705.5V485H1703V486H1700.5V486H1698V486H1695.5V486H1693V486H1690.5V486H1688V486H1685.5V486H1683V484H1680.5V486H1678V486H1675.5V486H1673V486H1670.5V483H1668V483H1665.5V482H1663V484H1660.5V484H1658V484H1655.5V484H1653V488H1650.5V488H1648V488H1645.5V488H1643V483H1640.5V483H1638V483H1635.5V484H1633V484H1630.5V484H1628V485H1625.5V485H1623V485H1620.5V487H1618V487H1615.5V487H1613V489H1610.5V489H1608V489H1605.5V483H1603V483H1600.5V482H1598V482H1595.5V482H1593V485H1590.5V485H1588V485H1585.5V485H1583V483H1580.5V485H1578V485H1575.5V485H1573V485H1570.5V484H1568V484H1565.5V484H1563V484H1560.5V487H1558V487H1555.5V487H1553V485H1550.5V485H1548V486H1545.5V486H1543V486H1540.5V486H1538V483H1535.5V483H1533V489H1530.5V489H1528V489H1525.5V489H1523V484H1520.5V484H1518V484H1515.5V484H1513V484H1510.5V484H1508V484H1505.5V484H1503V483H1500.5V483H1498V483H1495.5V483H1493V483H1490.5V483H1488V483H1485.5V488H1483V488H1480.5V488H1478V488H1475.5V480H1473V486H1470.5V487H1468V487H1465.5V487H1463V487H1460.5V487H1458V490H1455.5V490H1453V490H1450.5V490H1448V489H1445.5V489H1443V489H1440.5V482H1438V482H1435.5V482H1433V482H1430.5V481H1428V480H1425.5V480H1423V481H1420.5V481H1418V481H1415.5V476H1413V476H1410.5V472H1408V469H1405.5V466H1403V454H1400.5V472H1398V474H1395.5V478H1393V478H1390.5V479H1388V482H1385.5V482H1383V482H1380.5V482H1378V480H1375.5V480H1373V484H1370.5V485H1368V488H1365.5V488H1363V488H1360.5V482H1358V482H1355.5V482H1353V481H1350.5V480H1348V483H1345.5V484H1343V484H1340.5V484H1338V484H1335.5V481H1333V481H1330.5V481H1328V482H1325.5V482H1323V482H1320.5V480H1318V480H1315.5V480H1313V479H1310.5V480H1308V483H1305.5V483H1303V483H1300.5V480H1298V484H1295.5V484H1293V484H1290.5V484H1288V481H1285.5V481H1283V481H1280.5V481H1278V480H1275.5V485H1273V485H1270.5V485H1268V485H1265.5V481H1263V481H1260.5V481H1258V478H1255.5V478H1253V478H1250.5V478H1248V474H1245.5V468H1243V465H1240.5V451H1238V443H1235.5V459H1233V465H1230.5V470H1228V478H1225.5V478H1223V478H1220.5V478H1218V482H1215.5V482H1213V482H1210.5V482H1208V479H1205.5V479H1203V480H1200.5V480H1198V480H1195.5V480H1193V483H1190.5V483H1188V483H1185.5V483H1183V480H1180.5V480H1178V480H1175.5V480H1173V480H1170.5V483H1168V483H1165.5V483H1163V482H1160.5V482H1158V482H1155.5V488H1153V488H1150.5V488H1148V488H1145.5V484H1143V480H1140.5V481H1138V486H1135.5V486H1133V486H1130.5V486H1128V486H1125.5V486H1123V482H1120.5V482H1118V480H1115.5V483H1113V485H1110.5V485H1108V485H1105.5V484H1103V484H1100.5V484H1098V484H1095.5V484H1093V485H1090.5V485H1088V486H1085.5V486H1083V486H1080.5V486H1078V485H1075.5V485H1073V485H1070.5V485H1068V483H1065.5V483H1063V484H1060.5V484H1058V484H1055.5V484H1053V483H1050.5V483H1048V484H1045.5V484H1043V484H1040.5V483H1038V482H1035.5V482H1033V486H1030.5V486H1028V486H1025.5V486H1023V486H1020.5V484H1018V484H1015.5V486H1013V486H1010.5V486H1008V486H1005.5V483H1003V484H1000.5V484H998V485H995.5V486H993V486H990.5V488H988V489H985.5V489H983V489H980.5V489H978V484H975.5V484H973V483H970.5V490H968V490H965.5V490H963V487H960.5V487H958V484H955.5V484H953V482H950.5V487H948V487H945.5V487H943V488H940.5V488H938V488H935.5V486H933V486H930.5V486H928V487H925.5V487H923V487H920.5V487H918V485H915.5V487H913V487H910.5V487H908V487H905.5V488H903V488H900.5V488H898V488H895.5V488H893V488H890.5V486H888V488H885.5V488H883V488H880.5V488H878V487H875.5V487H873V487H870.5V487H868V483H865.5V483H863V485H860.5V488H858V488H855.5V488H853V485H850.5V484H848V487H845.5V487H843V487H840.5V487H838V484H835.5V485H833V486H830.5V486H828V488H825.5V488H823V488H820.5V486H818V483H815.5V480H813V483H810.5V484H808V491H805.5V491H803V491H800.5V491H798V486H795.5V487H793V487H790.5V487H788V487H785.5V487H783V487H780.5V488H778V488H775.5V488H773V486H770.5V487H768V487H765.5V487H763V487H760.5V487H758V487H755.5V489H753V489H750.5V489H748V489H745.5V492H743V492H740.5V492H738V492H735.5V490H733V490H730.5V490H728V490H725.5V489H723V489H720.5V489H718V489H715.5V488H713V488H710.5V488H708V488H705.5V488H703V489H700.5V489H698V489H695.5V489H693V489H690.5V489H688V489H685.5V488H683V488H680.5V488H678V489H675.5V489H673V489H670.5V489H668V489H665.5V489H663V491H660.5V491H658V491H655.5V491H653V491H650.5V489H648V489H645.5V489H643V488H640.5V488H638V490H635.5V490H633V490H630.5V490H628V489H625.5V488H623V489H620.5V489H618V489H615.5V486H613V488H610.5V488H608V488H605.5V488H603V491H600.5V491H598V491H595.5V491H593V488H590.5V490H588V490H585.5V490H583V489H580.5V486H578V488H575.5V488H573V488H570.5V488H568V488H565.5V487H563V491H560.5V491H558V491H555.5V491H553V490H550.5V490H548V490H545.5V490H543V487H540.5V490H538V490H535.5V490H533V486H530.5V486H528V486H525.5V484H523V485H520.5V485H518V485H515.5V486H513V486H510.5V488H508V488H505.5V488H503V485H500.5V485H498V485H495.5V485H493V483H490.5V483H488V483H485.5V485H483V485H480.5V485H478V485H475.5V485H473V485H470.5V480H468V484H465.5V484H463V484H460.5V484H458V484H455.5V484H453V481H450.5V481H448V478H445.5V482H443V482H440.5V482H438V482H435.5V473H433V471H430.5V472H428V479H425.5V479H423V479H420.5V472H418V472H415.5V468H413V465H410.5V465H408V457H405.5V457H403V454H400.5V451H398V450H395.5V444H393V439H390.5V437H388V433H385.5V433H383V429H380.5V423H378V417H375.5V417H373V417H370.5V409H368V399H365.5V397H363V383H360.5V379H358V377H355.5V368H353V357H350.5V353H348V346H345.5V340H343V340H340.5V432H338Z" fill="#0000ff"/>
<path d="M338,498V498H340.5V498H343V498H345.5V500H348V504H350.5V510H353V511H355.5V527H358V528H360.5V535H363V538H365.5V538H368V546H370.5V546H373V566H375.5V566H378V576H380.5V582H383V583H385.5V586H388V595H390.5V598H393V598H395.5V605H398V605H400.5V611H403V616H405.5V616H408V619H410.5V619H413V619H415.5V619H418V624H420.5V630H423V630H425.5V630H428V633H430.5V633H433V633H435.5V634H438V634H440.5V637H443V637H445.5V639H448V639H450.5V641H453V641H455.5V645H458V643H460.5V643H463V643H465.5V640H468V640H470.5V640H473V640H475.5V642H478V642H480.5V642H483V642H485.5V645H488V645H490.5V645H493V644H495.5V644H498V644H500.5V641H503V641H505.5V641H508V644H510.5V644H513V644H515.5V646H518V646H520.5V646H523V646H525.5V646H528V646H530.5V646H533V647H535.5V647H538V647H540.5V647H543V645H545.5V645H548V645H550.5V645H553V645H555.5V645H558V645H560.5V646H563V646H565.5V648H568V648H570.5V648H573V648H575.5V647H578V647H580.5V647H583V648H585.5V649H588V649H590.5V649H593V649H595.5V651H598V651H600.5V651H603V650H605.5V650H608V649H610.5V648H613V648H615.5V648H618V647H620.5V647H623V647H625.5V647H628V645H630.5V645H633V645H635.5V650H638V652H640.5V652H643V650H645.5V649H648V648H650.5V648H653V648H655.5V648H658V648H660.5V649H663V649H665.5V649H668V648H670.5V648H673V647H675.5V647H678V647H680.5V647H683V651H685.5V649H688V649H690.5V649H693V649H695.5V650H698V650H700.5V650H703V647H705.5V647H708V647H710.5V652H713V652H715.5V649H718V644H720.5V644H723V644H725.5V644H728V647H730.5V647H733V647H735.5V647H738V647H740.5V648H743V647H745.5V647H748V645H750.5V645H753V645H755.5V646H758V646H760.5V646H763V646H765.5V646H768V646H770.5V645H773V645H775.5V645H778V647H780.5V646H783V646H785.5V646H788V642H790.5V642H793V642H795.5V642H798V648H800.5V647H803V647H805.5V642H808V638H810.5V633H813V633H815.5V633H818V633H820.5V644H823V644H825.5V644H828V647H830.5V647H833V644H835.5V644H838V644H840.5V644H843V646H845.5V646H848V645H850.5V645H853V645H855.5V645H858V639H860.5V639H863V639H865.5V639H868V644H870.5V644H873V644H875.5V646H878V647H880.5V643H883V643H885.5V643H888V643H890.5V645H893V645H895.5V645H898V646H900.5V646H903V644H905.5V644H908V644H910.5V642H913V642H915.5V642H918V642H920.5V642H923V642H925.5V642H928V645H930.5V645H933V645H935.5V644H938V644H940.5V644H943V644H945.5V644H948V642H950.5V642H953V641H955.5V641H958V641H960.5V643H963V643H965.5V643H968V640H970.5V640H973V640H975.5V640H978V642H980.5V642H983V642H985.5V643H988V643H990.5V641H993V641H995.5V641H998V641H1000.5V642H1003V641H1005.5V641H1008V638H1010.5V638H1013V638H1015.5V642H1018V638H1020.5V638H1023V638H1025.5V638H1028V643H1030.5V644H1033V642H1035.5V642H1038V642H1040.5V642H1043V643H1045.5V637H1048V637H1050.5V637H1053V642H1055.5V642H1058V642H1060.5V643H1063V643H1065.5V643H1068V642H1070.5V642H1073V641H1075.5V641H1078V641H1080.5V642H1083V642H1085.5V641H1088V641H1090.5V641H1093V640H1095.5V640H1098V640H1100.5V640H1103V640H1105.5V640H1108V640H1110.5V642H1113V642H1115.5V642H1118V640H1120.5V640H1123V640H1125.5V640H1128V639H1130.5V638H1133V638H1135.5V638H1138V640H1140.5V640H1143V642H1145.5V642H1148V642H1150.5V642H1153V640H1155.5V640H1158V640H1160.5V642H1163V641H1165.5V637H1168V637H1170.5V637H1173V638H1175.5V638H1178V638H1180.5V638H1183V640H1185.5V640H1188V640H1190.5V640H1193V641H1195.5V638H1198V638H1200.5V638H1203V638H1205.5V640H1208V640H1210.5V640H1213V639H1215.5V636H1218V635H1220.5V634H1223V631H1225.5V626H1228V604H1230.5V549H1233V479H1235.5V479H1238V479H1240.5V479H1243V552H1245.5V604H1248V627H1250.5V633H1253V634H1255.5V636H1258V640H1260.5V639H1263V639H1265.5V639H1268V640H1270.5V640H1273V639H1275.5V639H1278V637H1280.5V637H1283V637H1285.5V637H1288V637H1290.5V637H1293V637H1295.5V637H1298V631H1300.5V631H1303V631H1305.5V631H1308V635H1310.5V640H1313V641H1315.5V644H1318V641H1320.5V641H1323V639H1325.5V639H1328V638H1330.5V638H1333V638H1335.5V636H1338V636H1340.5V636H1343V636H1345.5V636H1348V636H1350.5V636H1353V640H1355.5V640H1358V637H1360.5V637H1363V637H1365.5V637H1368V641H1370.5V641H1373V638H1375.5V638H1378V638H1380.5V638H1383V638H1385.5V638H1388V633H1390.5V633H1393V627H1395.5V615H1398V596H1400.5V592H1403V592H1405.5V592H1408V592H1410.5V615H1413V627H1415.5V632H1418V634H1420.5V636H1423V636H1425.5V638H1428V637H1430.5V637H1433V637H1435.5V637H1438V640H1440.5V640H1443V641H1445.5V641H1448V641H1450.5V639H1453V638H1455.5V638H1458V638H1460.5V645H1463V643H1465.5V643H1468V642H1470.5V642H1473V642H1475.5V642H1478V639H1480.5V639H1483V639H1485.5V641H1488V641H1490.5V639H1493V639H1495.5V639H1498V639H1500.5V642H1503V641H1505.5V641H1508V641H1510.5V641H1513V642H1515.5V642H1518V642H1520.5V641H1523V641H1525.5V641H1528V637H1530.5V637H1533V637H1535.5V637H1538V643H1540.5V636H1543V636H1545.5V636H1548V641H1550.5V642H1553V642H1555.5V643H1558V643H1560.5V642H1563V642H1565.5V639H1568V639H1570.5V639H1573V639H1575.5V642H1578V643H1580.5V640H1583V640H1585.5V640H1588V640H1590.5V640H1593V640H1595.5V640H1598V642H1600.5V642H1603V642H1605.5V643H1608V640H1610.5V640H1613V640H1615.5V640H1618V641H1620.5V641H1623V641H1625.5V641H1628V641H1630.5V641H1633V640H1635.5V640H1638V640H1640.5V641H1643V643H1645.5V642H1648V642H1650.5V642H1653V640H1655.5V640H1658V640H1660.5V640H1663V643H1665.5V643H1668V642H1670.5V641H1673V641H1675.5V638H1678V638H1680.5V638H1683V638H1685.5V645H1688V645H1690.5V643H1693V641H1695.5V639H1698V639H1700.5V639H1703V639H1705.5V642H1708V644H1710.5V641H1713V640H1715.5V640H1718V640H1720.5V640H1723V641H1725.5V644H1728V644H1730.5V645H1733V644H1735.5V643H1738V640H1740.5V640H1743V640H1745.5V640H1748V640H1750.5V641H1753V644H1755.5V641H1758V641H1760.5V641H1763V641H1765.5V644H1768V642H1770.5V642H1773V642H1775.5V644H1778V644H1780.5V644H1783V642H1785.5V642H1788V642H1790.5V642H1793V643H1795.5V643H1798V643H1800.5V639H1803V639H1805.5V637H1808V637H1810.5V637H1813V637H1815.5V643H1818V643H1820.5V643H1823V643H1825.5V643H1828V643H1830.5V645H1833V643H1835.5V643H1838V643H1840.5V647H1843V643H1845.5V642H1848V639H1850.5V639H1853V638H1855.5V638H1858V638H1860.5V643H1863V644H1865.5V644H1868V644H1870.5V644H1873V642H1875.5V642H1878V642H1880.5V642H1883V643H1885.5V640H1888V640H1890.5V640H1893V640H1895.5V640H1898V640H1900.5V641H1903V641H1905.5V642H1908V641H1910.5V641H1913V641H1915.5V641H1918V641H1920.5V641H1923V640H1925.5V640H1928V640H1930.5V640H1933V644H1935.5V642H1938V642H1940.5V642H1943V642H1945.5V642H1948V636H1950.5V622H1953V603H1955.5V597H1958V592H1960.5V592H1963V592H1965.5V498H1968V607H1965.5V611H1963V620H1960.5V632H1958V648H1955.5V654H1953V659H1950.5V659H1948V659H1945.5V661H1943V661H1940.5V661H1938V661H1935.5V665H1933V665H1930.5V665H1928V665H1925.5V663H1923V663H1920.5V663H1918V660H1915.5V660H1913V660H1910.5V659H1908V660H1905.5V660H1903V660H1900.5V660H1898V660H1895.5V660H1893V660H1890.5V660H1888V665H1885.5V665H1883V665H1880.5V662H1878V662H1875.5V662H1873V662H1870.5V663H1868V663H1865.5V663H1863V663H1860.5V663H1858V663H1855.5V661H1853V661H1850.5V662H1848V663H1845.5V663H1843V663H1840.5V660H1838V664H1835.5V664H1833V664H1830.5V664H1828V662H1825.5V658H1823V659H1820.5V659H1818V660H1815.5V660H1813V662H1810.5V662H1808V662H1805.5V662H1803V662H1800.5V659H1798V659H1795.5V659H1793V659H1790.5V661H1788V661H1785.5V661H1783V662H1780.5V662H1778V662H1775.5V662H1773V660H1770.5V660H1768V663H1765.5V664H1763V664H1760.5V664H1758V662H1755.5V662H1753V662H1750.5V661H1748V661H1745.5V659H1743V661H1740.5V661H1738V661H1735.5V661H1733V660H1730.5V660H1728V662H1725.5V662H1723V662H1720.5V663H1718V663H1715.5V666H1713V666H1710.5V666H1708V666H1705.5V658H1703V658H1700.5V660H1698V661H1695.5V661H1693V661H1690.5V661H1688V660H1685.5V662H1683V662H1680.5V662H1678V662H1675.5V660H1673V660H1670.5V660H1668V660H1665.5V660H1663V661H1660.5V661H1658V661H1655.5V661H1653V659H1650.5V659H1648V662H1645.5V663H1643V663H1640.5V663H1638V661H1635.5V659H1633V660H1630.5V662H1628V662H1625.5V662H1623V662H1620.5V662H1618V662H1615.5V660H1613V660H1610.5V658H1608V662H1605.5V662H1603V662H1600.5V662H1598V659H1595.5V659H1593V659H1590.5V659H1588V659H1585.5V662H1583V662H1580.5V662H1578V662H1575.5V662H1573V662H1570.5V658H1568V659H1565.5V659H1563V660H1560.5V660H1558V661H1555.5V661H1553V661H1550.5V663H1548V663H1545.5V663H1543V661H1540.5V661H1538V658H1535.5V658H1533V658H1530.5V658H1528V658H1525.5V658H1523V659H1520.5V663H1518V663H1515.5V663H1513V660H1510.5V660H1508V660H1505.5V661H1503V661H1500.5V661H1498V661H1495.5V659H1493V660H1490.5V660H1488V660H1485.5V660H1483V662H1480.5V662H1478V662H1475.5V662H1473V660H1470.5V658H1468V659H1465.5V659H1463V659H1460.5V659H1458V659H1455.5V659H1453V664H1450.5V664H1448V664H1445.5V664H1443V660H1440.5V660H1438V660H1435.5V660H1433V660H1430.5V660H1428V660H1425.5V659H1423V659H1420.5V659H1418V654H1415.5V653H1413V653H1410.5V653H1408V645H1405.5V632H1403V640H1400.5V652H1398V652H1395.5V653H1393V655H1390.5V659H1388V659H1385.5V661H1383V661H1380.5V661H1378V661H1375.5V658H1373V657H1370.5V661H1368V661H1365.5V661H1363V661H1360.5V659H1358V659H1355.5V659H1353V658H1350.5V660H1348V660H1345.5V660H1343V660H1340.5V660H1338V660H1335.5V660H1333V660H1330.5V660H1328V660H1325.5V660H1323V657H1320.5V661H1318V661H1315.5V661H1313V659H1310.5V659H1308V656H1305.5V654H1303V657H1300.5V657H1298V660H1295.5V660H1293V660H1290.5V660H1288V655H1285.5V656H1283V660H1280.5V660H1278V660H1275.5V659H1273V657H1270.5V657H1268V661H1265.5V661H1263V661H1260.5V661H1258V654H1255.5V653H1253V653H1250.5V652H1248V652H1245.5V652H1243V640H1240.5V633H1238V635H1235.5V640H1233V650H1230.5V654H1228V655H1225.5V655H1223V655H1220.5V655H1218V661H1215.5V661H1213V661H1210.5V661H1208V656H1205.5V655H1203V655H1200.5V655H1198V656H1195.5V657H1193V657H1190.5V657H1188V657H1185.5V656H1183V660H1180.5V660H1178V660H1175.5V660H1173V659H1170.5V658H1168V658H1165.5V658H1163V658H1160.5V658H1158V658H1155.5V658H1153V658H1150.5V658H1148V658H1145.5V659H1143V660H1140.5V660H1138V660H1135.5V660H1133V658H1130.5V658H1128V657H1125.5V657H1123V657H1120.5V657H1118V659H1115.5V662H1113V662H1110.5V662H1108V662H1105.5V662H1103V659H1100.5V662H1098V662H1095.5V662H1093V662H1090.5V662H1088V661H1085.5V661H1083V658H1080.5V658H1078V660H1075.5V660H1073V662H1070.5V662H1068V663H1065.5V663H1063V663H1060.5V663H1058V662H1055.5V659H1053V660H1050.5V660H1048V660H1045.5V665H1043V665H1040.5V665H1038V662H1035.5V659H1033V659H1030.5V659H1028V659H1025.5V659H1023V665H1020.5V665H1018V665H1015.5V665H1013V661H1010.5V661H1008V661H1005.5V661H1003V660H1000.5V659H998V661H995.5V661H993V663H990.5V663H988V663H985.5V662H983V662H980.5V662H978V661H975.5V661H973V661H970.5V659H968V659H965.5V663H963V663H960.5V663H958V663H955.5V662H953V662H950.5V661H948V663H945.5V663H943V663H940.5V664H938V664H935.5V664H933V662H930.5V666H928V666H925.5V666H923V666H920.5V662H918V661H915.5V661H913V661H910.5V661H908V661H905.5V665H903V665H900.5V665H898V664H895.5V664H893V664H890.5V664H888V664H885.5V664H883V663H880.5V663H878V662H875.5V663H873V663H870.5V663H868V663H865.5V662H863V662H860.5V662H858V661H855.5V665H853V665H850.5V665H848V665H845.5V663H843V663H840.5V662H838V663H835.5V663H833V665H830.5V665H828V665H825.5V665H823V661H820.5V661H818V661H815.5V661H813V662H810.5V662H808V662H805.5V662H803V664H800.5V664H798V664H795.5V667H793V667H790.5V667H788V667H785.5V669H783V669H780.5V669H778V669H775.5V667H773V669H770.5V669H768V669H765.5V669H763V668H760.5V668H758V665H755.5V666H753V666H750.5V666H748V666H745.5V666H743V665H740.5V665H738V668H735.5V668H733V668H730.5V668H728V668H725.5V668H723V668H720.5V668H718V668H715.5V667H713V671H710.5V671H708V671H705.5V666H703V666H700.5V671H698V671H695.5V671H693V671H690.5V676H688V676H685.5V676H683V676H680.5V668H678V668H675.5V668H673V668H670.5V667H668V667H665.5V667H663V668H660.5V668H658V668H655.5V675H653V675H650.5V675H648V675H645.5V669H643V669H640.5V670H638V670H635.5V670H633V670H630.5V669H628V670H625.5V671H623V671H620.5V671H618V671H615.5V668H613V668H610.5V669H608V669H605.5V669H603V669H600.5V668H598V668H595.5V668H593V666H590.5V668H588V668H585.5V668H583V668H580.5V667H578V667H575.5V667H573V667H570.5V667H568V666H565.5V666H563V667H560.5V667H558V667H555.5V667H553V665H550.5V665H548V665H545.5V668H543V668H540.5V668H538V669H535.5V669H533V669H530.5V669H528V665H525.5V663H523V661H520.5V661H518V665H515.5V666H513V666H510.5V666H508V666H505.5V663H503V663H500.5V663H498V664H495.5V664H493V664H490.5V664H488V664H485.5V664H483V664H480.5V664H478V664H475.5V664H473V661H470.5V665H468V665H465.5V665H463V665H460.5V662H458V662H455.5V660H453V662H450.5V662H448V662H445.5V662H443V659H440.5V657H438V653H435.5V655H433V655H430.5V655H428V655H425.5V653H423V653H420.5V653H418V651H415.5V645H413V645H410.5V645H408V643H405.5V638H403V637H400.5V631H398V633H395.5V633H393V633H390.5V633H388V624H385.5V616H383V616H380.5V604H378V601H375.5V596H373V592H370.5V586H368V586H365.5V581H363V569H360.5V569H358V562H355.5V552H353V550H350.5V550H348V534H345.5V533H343V533H340.5V607H338Z" fill="#ff0000"/>
<path d="M338,637V637H340.5V637H343V647H345.5V652H348V661H350.5V666H353V667H355.5V674H358V677H360.5V690H363V695H365.5V703H368V707H370.5V711H373V722H375.5V726H378V729H380.5V738H383V742H385.5V742H388V746H390.5V750H393V750H395.5V761H398V763H400.5V766H403V770H405.5V771H408V772H410.5V772H413V774H415.5V774H418V778H420.5V778H423V786H425.5V786H428V788H430.5V788H433V790H435.5V790H438V791H440.5V793H443V794H445.5V792H448V792H450.5V792H453V792H455.5V797H458V797H460.5V797H463V797H465.5V799H468V799H470.5V799H473V792H475.5V792H478V792H480.5V792H483V797H485.5V797H488V797H490.5V797H493V801H495.5V801H498V800H500.5V800H503V800H505.5V800H508V801H510.5V802H513V802H515.5V802H518V802H520.5V798H523V798H525.5V795H528V795H530.5V795H533V795H535.5V799H538V800H540.5V800H543V800H545.5V800H548V800H550.5V801H553V801H555.5V801H558V801H560.5V802H563V803H565.5V802H568V802H570.5V801H573V801H575.5V801H578V802H580.5V802H583V802H585.5V802H588V803H590.5V803H593V801H595.5V801H598V801H600.5V801H603V800H605.5V800H608V800H610.5V800H613V802H615.5V799H618V799H620.5V799H623V804H625.5V805H628V807H630.5V806H633V806H635.5V806H638V805H640.5V803H643V803H645.5V802H648V802H650.5V802H653V802H655.5V803H658V803H660.5V803H663V803H665.5V805H668V803H670.5V802H673V802H675.5V802H678V799H680.5V799H683V799H685.5V802H688V802H690.5V802H693V802H695.5V803H698V803H700.5V803H703V803H705.5V801H708V801H710.5V801H713V803H715.5V803H718V803H720.5V796H723V796H725.5V796H728V796H730.5V802H733V799H735.5V799H738V799H740.5V799H743V803H745.5V804H748V802H750.5V802H753V802H755.5V802H758V803H760.5V802H763V802H765.5V802H768V799H770.5V799H773V799H775.5V799H778V802H780.5V803H783V800H785.5V800H788V799H790.5V797H793V796H795.5V796H798V796H800.5V798H803V798H805.5V798H808V798H810.5V798H813V798H815.5V798H818V801H820.5V798H823V798H825.5V798H828V798H830.5V799H833V799H835.5V799H838V798H840.5V798H843V798H845.5V797H848V797H850.5V797H853V797H855.5V798H858V798H860.5V798H863V799H865.5V799H868V799H870.5V799H873V799H875.5V799H878V799H880.5V794H883V794H885.5V787H888V787H890.5V787H893V787H895.5V792H898V798H900.5V798H903V798H905.5V798H908V798H910.5V798H913V798H915.5V798H918V797H920.5V796H923V796H925.5V796H928V798H930.5V797H933V797H935.5V796H938V796H940.5V796H943V799H945.5V800H948V799H950.5V797H953V797H955.5V797H958V796H960.5V796H963V796H965.5V796H968V794H970.5V794H973V794H975.5V794H978V796H980.5V796H983V796H985.5V796H988V790H990.5V785H993V782H995.5V782H998V782H1000.5V789H1003V795H1005.5V795H1008V797H1010.5V797H1013V798H1015.5V798H1018V798H1020.5V793H1023V793H1025.5V793H1028V793H1030.5V795H1033V795H1035.5V795H1038V795H1040.5V794H1043V794H1045.5V794H1048V791H1050.5V791H1053V791H1055.5V791H1058V791H1060.5V795H1063V794H1065.5V794H1068V794H1070.5V794H1073V794H1075.5V794H1078V790H1080.5V790H1083V790H1085.5V790H1088V792H1090.5V796H1093V791H1095.5V791H1098V791H1100.5V791H1103V793H1105.5V793H1108V794H1110.5V794H1113V794H1115.5V791H1118V791H1120.5V791H1123V795H1125.5V794H1128V794H1130.5V794H1133V797H1135.5V795H1138V794H1140.5V792H1143V792H1145.5V792H1148V792H1150.5V793H1153V793H1155.5V792H1158V792H1160.5V792H1163V794H1165.5V794H1168V794H1170.5V795H1173V788H1175.5V788H1178V788H1180.5V791H1183V791H1185.5V791H1188V791H1190.5V793H1193V793H1195.5V793H1198V792H1200.5V792H1203V792H1205.5V792H1208V792H1210.5V791H1213V791H1215.5V791H1218V791H1220.5V789H1223V783H1225.5V782H1228V760H1230.5V693H1233V619H1235.5V619H1238V619H1240.5V619H1243V694H1245.5V754H1248V783H1250.5V788H1253V789H1255.5V789H1258V790H1260.5V793H1263V792H1265.5V792H1268V792H1270.5V792H1273V791H1275.5V791H1278V791H1280.5V791H1283V797H1285.5V795H1288V795H1290.5V793H1293V793H1295.5V793H1298V790H1300.5V790H1303V790H1305.5V790H1308V791H1310.5V791H1313V791H1315.5V789H1318V788H1320.5V788H1323V788H1325.5V788H1328V793H1330.5V795H1333V795H1335.5V795H1338V795H1340.5V795H1343V795H1345.5V795H1348V795H1350.5V797H1353V791H1355.5V791H1358V791H1360.5V791H1363V795H1365.5V796H1368V795H1370.5V795H1373V795H1375.5V795H1378V791H1380.5V791H1383V791H1385.5V787H1388V787H1390.5V786H1393V772H1395.5V762H1398V747H1400.5V747H1403V747H1405.5V747H1408V755H1410.5V776H1413V780H1415.5V787H1418V789H1420.5V790H1423V790H1425.5V790H1428V790H1430.5V793H1433V793H1435.5V794H1438V794H1440.5V794H1443V794H1445.5V794H1448V793H1450.5V791H1453V791H1455.5V791H1458V791H1460.5V793H1463V793H1465.5V793H1468V793H1470.5V792H1473V792H1475.5V792H1478V792H1480.5V796H1483V796H1485.5V796H1488V794H1490.5V794H1493V794H1495.5V794H1498V795H1500.5V795H1503V795H1505.5V795H1508V796H1510.5V796H1513V797H1515.5V793H1518V793H1520.5V791H1523V791H1525.5V791H1528V791H1530.5V796H1533V791H1535.5V791H1538V791H1540.5V791H1543V792H1545.5V792H1548V792H1550.5V792H1553V793H1555.5V793H1558V793H1560.5V793H1563V793H1565.5V793H1568V793H1570.5V793H1573V793H1575.5V795H1578V795H1580.5V795H1583V795H1585.5V794H1588V794H1590.5V794H1593V794H1595.5V794H1598V796H1600.5V796H1603V794H1605.5V793H1608V793H1610.5V793H1613V793H1615.5V795H1618V795H1620.5V796H1623V796H1625.5V798H1628V798H1630.5V798H1633V794H1635.5V794H1638V794H1640.5V794H1643V794H1645.5V794H1648V790H1650.5V790H1653V790H1655.5V790H1658V793H1660.5V795H1663V795H1665.5V795H1668V792H1670.5V792H1673V792H1675.5V792H1678V794H1680.5V796H1683V796H1685.5V796H1688V794H1690.5V794H1693V794H1695.5V792H1698V792H1700.5V792H1703V797H1705.5V797H1708V795H1710.5V795H1713V795H1715.5V795H1718V795H1720.5V796H1723V796H1725.5V796H1728V795H1730.5V795H1733V792H1735.5V792H1738V792H1740.5V795H1743V795H1745.5V795H1748V795H1750.5V795H1753V794H1755.5V794H1758V793H1760.5V793H1763V792H1765.5V792H1768V792H1770.5V792H1773V794H1775.5V793H1778V793H1780.5V793H1783V793H1785.5V793H1788V789H1790.5V789H1793V789H1795.5V789H1798V793H1800.5V793H1803V793H1805.5V797H1808V795H1810.5V795H1813V795H1815.5V795H1818V795H1820.5V795H1823V795H1825.5V792H1828V792H1830.5V792H1833V793H1835.5V792H1838V792H1840.5V792H1843V794H1845.5V794H1848V793H1850.5V793H1853V793H1855.5V793H1858V795H1860.5V794H1863V794H1865.5V794H1868V793H1870.5V793H1873V793H1875.5V796H1878V796H1880.5V796H1883V796H1885.5V796H1888V797H1890.5V797H1893V797H1895.5V794H1898V794H1900.5V794H1903V794H1905.5V796H1908V792H1910.5V792H1913V792H1915.5V792H1918V794H1920.5V794H1923V796H1925.5V795H1928V795H1930.5V793H1933V793H1935.5V793H1938V793H1940.5V795H1943V795H1945.5V797H1948V787H1950.5V775H1953V757H1955.5V754H1958V751H1960.5V749H1963V747H1965.5V637H1968V764H1965.5V768H1963V777H1960.5V788H1958V796H1955.5V811H1953V811H1950.5V812H1948V815H1945.5V815H1943V815H1940.5V811H1938V811H1935.5V812H1933V812H1930.5V812H1928V812H1925.5V812H1923V812H1920.5V812H1918V812H1915.5V811H1913V815H1910.5V815H1908V815H1905.5V815H1903V814H1900.5V814H1898V814H1895.5V814H1893V814H1890.5V815H1888V815H1885.5V815H1883V815H1880.5V815H1878V812H1875.5V812H1873V812H1870.5V814H1868V814H1865.5V814H1863V812H1860.5V812H1858V812H1855.5V812H1853V813H1850.5V813H1848V813H1845.5V812H1843V816H1840.5V816H1838V816H1835.5V816H1833V813H1830.5V814H1828V814H1825.5V814H1823V812H1820.5V812H1818V812H1815.5V812H1813V812H1810.5V811H1808V811H1805.5V812H1803V812H1800.5V812H1798V814H1795.5V814H1793V814H1790.5V815H1788V815H1785.5V815H1783V813H1780.5V813H1778V811H1775.5V811H1773V811H1770.5V811H1768V811H1765.5V813H1763V813H1760.5V813H1758V813H1755.5V813H1753V811H1750.5V811H1748V818H1745.5V818H1743V818H1740.5V818H1738V814H1735.5V814H1733V815H1730.5V815H1728V815H1725.5V815H1723V811H1720.5V812H1718V813H1715.5V813H1713V813H1710.5V813H1708V816H1705.5V816H1703V816H1700.5V816H1698V818H1695.5V818H1693V818H1690.5V818H1688V814H1685.5V814H1683V812H1680.5V813H1678V816H1675.5V816H1673V816H1670.5V812H1668V813H1665.5V813H1663V813H1660.5V812H1658V812H1655.5V812H1653V812H1650.5V812H1648V811H1645.5V811H1643V815H1640.5V815H1638V815H1635.5V815H1633V814H1630.5V814H1628V814H1625.5V814H1623V811H1620.5V811H1618V812H1615.5V817H1613V817H1610.5V817H1608V811H1605.5V813H1603V813H1600.5V813H1598V813H1595.5V812H1593V812H1590.5V812H1588V812H1585.5V810H1583V813H1580.5V813H1578V817H1575.5V817H1573V817H1570.5V817H1568V811H1565.5V815H1563V815H1560.5V815H1558V815H1555.5V812H1553V812H1550.5V812H1548V812H1545.5V813H1543V813H1540.5V813H1538V813H1535.5V812H1533V812H1530.5V812H1528V812H1525.5V809H1523V811H1520.5V813H1518V813H1515.5V813H1513V813H1510.5V813H1508V813H1505.5V813H1503V815H1500.5V815H1498V815H1495.5V815H1493V811H1490.5V815H1488V815H1485.5V815H1483V815H1480.5V815H1478V815H1475.5V814H1473V814H1470.5V814H1468V812H1465.5V812H1463V816H1460.5V816H1458V816H1455.5V809H1453V809H1450.5V809H1448V811H1445.5V811H1443V811H1440.5V812H1438V812H1435.5V813H1433V813H1430.5V813H1428V811H1425.5V811H1423V811H1420.5V811H1418V809H1415.5V809H1413V809H1410.5V801H1408V801H1405.5V791H1403V794H1400.5V796H1398V804H1395.5V805H1393V807H1390.5V807H1388V807H1385.5V811H1383V811H1380.5V811H1378V811H1375.5V811H1373V811H1370.5V811H1368V810H1365.5V809H1363V809H1360.5V809H1358V809H1355.5V810H1353V811H1350.5V811H1348V811H1345.5V811H1343V813H1340.5V813H1338V813H1335.5V813H1333V810H1330.5V809H1328V809H1325.5V809H1323V809H1320.5V813H1318V813H1315.5V813H1313V813H1310.5V814H1308V814H1305.5V814H1303V814H1300.5V812H1298V812H1295.5V812H1293V812H1290.5V812H1288V812H1285.5V812H1283V812H1280.5V812H1278V812H1275.5V811H1273V811H1270.5V811H1268V809H1265.5V809H1263V810H1260.5V810H1258V810H1255.5V808H1253V808H1250.5V808H1248V802H1245.5V800H1243V794H1240.5V781H1238V774H1235.5V795H1233V802H1230.5V802H1228V808H1225.5V809H1223V809H1220.5V809H1218V809H1215.5V810H1213V810H1210.5V810H1208V809H1205.5V807H1203V810H1200.5V810H1198V810H1195.5V810H1193V810H1190.5V810H1188V811H1185.5V814H1183V814H1180.5V814H1178V813H1175.5V813H1173V813H1170.5V810H1168V811H1165.5V811H1163V811H1160.5V811H1158V811H1155.5V810H1153V811H1150.5V812H1148V812H1145.5V812H1143V812H1140.5V813H1138V813H1135.5V813H1133V811H1130.5V810H1128V810H1125.5V810H1123V815H1120.5V815H1118V815H1115.5V815H1113V813H1110.5V813H1108V812H1105.5V812H1103V810H1100.5V810H1098V810H1095.5V810H1093V810H1090.5V813H1088V813H1085.5V814H1083V814H1080.5V814H1078V811H1075.5V811H1073V816H1070.5V816H1068V816H1065.5V814H1063V814H1060.5V814H1058V813H1055.5V813H1053V812H1050.5V814H1048V814H1045.5V814H1043V814H1040.5V814H1038V814H1035.5V815H1033V815H1030.5V815H1028V815H1025.5V814H1023V814H1020.5V814H1018V814H1015.5V814H1013V814H1010.5V813H1008V813H1005.5V813H1003V812H1000.5V809H998V809H995.5V807H993V810H990.5V814H988V815H985.5V815H983V815H980.5V815H978V813H975.5V813H973V813H970.5V813H968V813H965.5V814H963V814H960.5V815H958V818H955.5V818H953V818H950.5V816H948V816H945.5V816H943V816H940.5V812H938V815H935.5V815H933V816H930.5V816H928V816H925.5V816H923V813H920.5V814H918V814H915.5V814H913V815H910.5V817H908V817H905.5V817H903V813H900.5V814H898V814H895.5V814H893V814H890.5V814H888V814H885.5V815H883V815H880.5V815H878V813H875.5V814H873V814H870.5V814H868V813H865.5V819H863V819H860.5V819H858V818H855.5V818H853V818H850.5V818H848V817H845.5V817H843V817H840.5V817H838V816H835.5V816H833V816H830.5V816H828V816H825.5V816H823V815H820.5V818H818V819H815.5V819H813V819H810.5V819H808V819H805.5V819H803V819H800.5V817H798V817H795.5V817H793V816H790.5V817H788V817H785.5V817H783V823H780.5V823H778V823H775.5V823H773V819H770.5V819H768V819H765.5V819H763V819H760.5V818H758V818H755.5V818H753V818H750.5V818H748V819H745.5V819H743V819H740.5V818H738V819H735.5V819H733V819H730.5V819H728V819H725.5V820H723V820H720.5V820H718V820H715.5V820H713V819H710.5V819H708V820H705.5V820H703V821H700.5V821H698V821H695.5V821H693V823H690.5V823H688V823H685.5V820H683V820H680.5V823H678V823H675.5V823H673V822H670.5V822H668V822H665.5V822H663V822H660.5V822H658V822H655.5V822H653V822H650.5V821H648V822H645.5V822H643V822H640.5V822H638V819H635.5V822H633V822H630.5V823H628V823H625.5V823H623V823H620.5V821H618V821H615.5V820H613V822H610.5V822H608V822H605.5V819H603V819H600.5V818H598V822H595.5V822H593V822H590.5V822H588V821H585.5V821H583V818H580.5V818H578V818H575.5V819H573V819H570.5V819H568V823H565.5V823H563V823H560.5V821H558V821H555.5V821H553V821H550.5V820H548V821H545.5V821H543V821H540.5V821H538V819H535.5V819H533V817H530.5V818H528V818H525.5V818H523V818H520.5V819H518V819H515.5V819H513V821H510.5V821H508V821H505.5V821H503V821H500.5V821H498V820H495.5V820H493V820H490.5V817H488V816H485.5V813H483V815H480.5V815H478V815H475.5V816H473V816H470.5V816H468V816H465.5V812H463V812H460.5V812H458V815H455.5V818H453V818H450.5V818H448V818H445.5V811H443V811H440.5V811H438V810H435.5V809H433V807H430.5V807H428V805H425.5V805H423V805H420.5V805H418V800H415.5V800H413V800H410.5V800H408V795H405.5V789H403V788H400.5V788H398V788H395.5V783H393V778H390.5V778H388V771H385.5V766H383V764H380.5V759H378V759H375.5V749H373V746H370.5V742H368V731H365.5V724H363V723H360.5V710H358V709H355.5V702H353V699H350.5V695H348V695H345.5V682H343V682H340.5V763H338Z" fill="#000000"/>
</g>
<rect x="822" y="1067.6" width="8" height="128.8" fill="#000"/>
<rect x="915" y="1023.9" width="7.8" height="172.5" fill="#000"/>
<rect x="1053.3" y="1081.3" width="7.9" height="115.1" fill="#000"/>
<rect x="1221.9" y="1081.3" width="11.1" height="115.1" fill="#000"/>
<rect x="1268.5" y="1081.3" width="10.5" height="115.1" fill="#000"/>
<rect x="457.6" y="1171" width="5.2" height="25.4" fill="#000"/>
<rect x="688.8" y="1171" width="5.2" height="25.4" fill="#000"/>
<rect x="920" y="1171" width="5.2" height="25.4" fill="#000"/>
<rect x="1151.2" y="1171" width="5.2" height="25.4" fill="#000"/>
<rect x="1382.4" y="1171" width="5.2" height="25.4" fill="#000"/>
<rect x="1613.6" y="1171" width="5.2" height="25.4" fill="#000"/>
<rect x="1844.8" y="1171" width="5.2" height="25.4" fill="#000"/>
<rect x="573.2" y="1182.5" width="5.2" height="13.9" fill="#000"/>
<rect x="804.4" y="1182.5" width="5.2" height="13.9" fill="#000"/>
<rect x="1035.6" y="1182.5" width="5.2" height="13.9" fill="#000"/>
<rect x="1266.8" y="1182.5" width="5.2" height="13.9" fill="#000"/>
<rect x="1498" y="1182.5" width="5.2" height="13.9" fill="#000"/>
<rect x="1729.2" y="1182.5" width="5.2" height="13.9" fill="#000"/>
<rect x="343.3" y="36.0" width="1620.7" height="1160.4" fill="none" stroke="#000" stroke-width="6.4"/>
<rect x="558" y="1051.5" width="11" height="147.5" fill="#ff8800"/>
<rect x="561.5" y="1054" width="4" height="3.5" fill="#111"/>
<rect x="898.3" y="1122.7" width="10.7" height="76.3" fill="#ff8800"/>
<rect x="901.6" y="1125.2" width="4" height="3.5" fill="#111"/>
<rect x="988" y="1106.8" width="11" height="92.2" fill="#ff8800"/>
<rect x="991.5" y="1109.3" width="4" height="3.5" fill="#111"/>
<rect x="1015" y="1108.7" width="8.3" height="90.3" fill="#ff8800"/>
<rect x="1017.1" y="1111.2" width="4" height="3.5" fill="#111"/>
<rect x="1110" y="1103.7" width="8.6" height="95.3" fill="#ff8800"/>
<rect x="1112.3" y="1106.2" width="4" height="3.5" fill="#111"/>
<rect x="1175.8" y="1103" width="7.9" height="96" fill="#ff8800"/>
<rect x="1177.8" y="1105.5" width="4" height="3.5" fill="#111"/>
<rect x="1252" y="1122" width="7.8" height="77" fill="#ff8800"/>
<rect x="1253.9" y="1124.5" width="4" height="3.5" fill="#111"/>
<rect x="1336.2" y="1110.8" width="7.9" height="88.2" fill="#ff8800"/>
<rect x="1338.2" y="1113.3" width="4" height="3.5" fill="#111"/>
<rect x="1425.9" y="1117.7" width="11.2" height="81.3" fill="#ff8800"/>
<rect x="1429.5" y="1120.2" width="4" height="3.5" fill="#111"/>
<rect x="1573" y="1114.9" width="11.2" height="84.1" fill="#ff8800"/>
<rect x="1576.6" y="1117.4" width="4" height="3.5" fill="#111"/>
<rect x="1622" y="1117.7" width="16.5" height="81.3" fill="#ff8800"/>
<rect x="1628.2" y="1120.2" width="4" height="3.5" fill="#111"/>
<rect x="1739" y="1123.3" width="11.3" height="75.7" fill="#ff8800"/>
<rect x="1742.7" y="1125.8" width="4" height="3.5" fill="#111"/>
<rect x="1764" y="1125" width="10.6" height="74" fill="#ff8800"/>
<rect x="1767.3" y="1127.5" width="4" height="3.5" fill="#111"/>
<rect x="1815" y="1123.3" width="9" height="75.7" fill="#ff8800"/>
<rect x="1817.5" y="1125.8" width="4" height="3.5" fill="#111"/>
<rect x="1829.3" y="1123.3" width="10.3" height="75.7" fill="#ff8800"/>
<rect x="1832.4" y="1125.8" width="4" height="3.5" fill="#111"/>
<rect x="1889" y="1123.3" width="9.8" height="75.7" fill="#ff8800"/>
<rect x="1891.9" y="1125.8" width="4" height="3.5" fill="#111"/>
<rect x="1932" y="1122.8" width="10.9" height="76.2" fill="#ff8800"/>
<rect x="1935.5" y="1125.3" width="4" height="3.5" fill="#111"/>
<text class="se" transform="translate(577,1018) rotate(-90)" font-size="42" fill="#ff8800">(003)</text>
<text class="se" transform="translate(581.5,1039) rotate(-90)" font-size="41" fill="#ff8800">*</text>
<text class="se" transform="translate(901.2,1094.4) rotate(-90)" font-size="42" fill="#ff8800">(006)</text>
<text class="se" transform="translate(905.7,1116.2) rotate(-90)" font-size="41" fill="#ff8800">*</text>
<text class="se" transform="translate(999.3,1078) rotate(-90)" font-size="42" fill="#ff8800">(101)</text>
<text class="se" transform="translate(1003.8,1097.8) rotate(-90)" font-size="41" fill="#ff8800">*</text>
<text class="se" transform="translate(1044,1075.4) rotate(-90)" font-size="42" fill="#ff8800">(012)</text>
<text class="se" transform="translate(1048.5,1096.8) rotate(-90)" font-size="41" fill="#ff8800">*</text>
<text class="se" transform="translate(1131.6,1070.7) rotate(-90)" font-size="42" fill="#ff8800">(104)</text>
<text class="se" transform="translate(1136.1,1091.3) rotate(-90)" font-size="41" fill="#ff8800">*</text>
<text class="se" transform="translate(1194.3,1070.7) rotate(-90)" font-size="42" fill="#ff8800">(015)</text>
<text class="se" transform="translate(1198.8,1091.3) rotate(-90)" font-size="41" fill="#ff8800">*</text>
<text class="se" transform="translate(1270.7,1070.7) rotate(-90)" font-size="42" fill="#ff8800">(019)</text>
<text class="se" transform="translate(1275.2,1091.3) rotate(-90)" font-size="41" fill="#ff8800">*</text>
<text class="se" transform="translate(1355,1081.2) rotate(-90)" font-size="42" fill="#ff8800">(107)</text>
<text class="se" transform="translate(1359.5,1102.4) rotate(-90)" font-size="41" fill="#ff8800">*</text>
<text class="se" transform="translate(1444.6,1087.8) rotate(-90)" font-size="42" fill="#ff8800">(018)</text>
<text class="se" transform="translate(1449.1,1109.4) rotate(-90)" font-size="41" fill="#ff8800">*</text>
<text class="se" transform="translate(1595.4,1085.4) rotate(-90)" font-size="42" fill="#ff8800">(110)</text>
<text class="se" transform="translate(1599.9,1105.6) rotate(-90)" font-size="41" fill="#ff8800">*</text>
<text class="se" transform="translate(1647,1085.4) rotate(-90)" font-size="42" fill="#ff8800">(113)</text>
<text class="se" transform="translate(1651.5,1105.6) rotate(-90)" font-size="41" fill="#ff8800">*</text>
<text class="se" transform="translate(1765.2,1091.6) rotate(-90)" font-size="42" fill="#ff8800">(116)</text>
<text class="se" transform="translate(1769.7,1112) rotate(-90)" font-size="41" fill="#ff8800">*</text>
<text class="se" transform="translate(1839.2,1088.8) rotate(-90)" font-size="42" fill="#ff8800">(021)</text>
<text class="se" transform="translate(1843.7,1109.4) rotate(-90)" font-size="41" fill="#ff8800">*</text>
<text class="se" transform="translate(1903.8,1093.5) rotate(-90)" font-size="42" fill="#ff8800">(205)</text>
<text class="se" transform="translate(1908.3,1114) rotate(-90)" font-size="41" fill="#ff8800">*</text>
<text class="se" transform="translate(1947.9,1091.6) rotate(-90)" font-size="42" fill="#ff8800">(119)</text>
<text class="se" transform="translate(1952.4,1110.7) rotate(-90)" font-size="41" fill="#ff8800">*</text>
<text class="se" transform="translate(834,1020.6) rotate(-90)" font-size="42" fill="#000080">(111)</text>
<text class="dj" transform="translate(825.2,1040.8) rotate(-90)" font-size="19.5" fill="#000080">●</text>
<text class="se" transform="translate(925.5,970.5) rotate(-90)" font-size="42" fill="#000080">(121)</text>
<text class="dj" transform="translate(916.7,992.5) rotate(-90)" font-size="19.5" fill="#000080">●</text>
<text class="se" transform="translate(1066.5,964) rotate(-90)" font-size="42" fill="#000080">(112)</text>
<text class="dj" transform="translate(1057.7,983.8) rotate(-90)" font-size="19.5" fill="#000080">●</text>
<text class="se" transform="translate(1229.8,956) rotate(-90)" font-size="42" fill="#000080">(003)</text>
<text class="dj" transform="translate(1221,975.8) rotate(-90)" font-size="19.5" fill="#000080">●</text>
<text class="se" transform="translate(1291.7,953.4) rotate(-90)" font-size="42" fill="#000080">(212)</text>
<text class="dj" transform="translate(1282.9,972.3) rotate(-90)" font-size="19.5" fill="#000080">●</text>
<rect x="1527" y="98.2" width="146.6" height="5.6" fill="#008000"/>
<text class="se" transform="translate(1690,121.1)" font-size="63" font-weight="bold" fill="#008000">MCTO-4</text>
<rect x="1527" y="250.2" width="146.6" height="5.6" fill="#ff00ff"/>
<text class="se" transform="translate(1690,274.8)" font-size="63" font-weight="bold" fill="#ff00ff">MCTO-3</text>
<rect x="1527" y="406.2" width="146.6" height="5.6" fill="#0000ff"/>
<text class="se" transform="translate(1690,430.2)" font-size="63" font-weight="bold" fill="#0000ff">MCTO-2</text>
<rect x="1527" y="558.2" width="146.6" height="5.6" fill="#ff0000"/>
<text class="se" transform="translate(1690,582.4)" font-size="63" font-weight="bold" fill="#ff0000">MCTO-1</text>
<rect x="1527" y="711" width="146.6" height="8" fill="#000"/>
<text class="se" transform="translate(1690,737)" font-size="63" font-weight="bold" fill="#000">CTO</text>
<rect x="1445" y="862.9" width="133.4" height="6" fill="#000080"/>
<rect x="1445" y="931.4" width="133.4" height="6" fill="#ff8800"/>
<text class="se" transform="translate(1595.4,884) scale(1.015,1)" font-size="63">PDF#39-0145</text>
<text class="se" transform="translate(1595.4,960.7) scale(1.015,1)" font-size="63">PDF#86-2308</text>
<text class="se" transform="translate(461,1279) scale(1.04,1)" font-size="74.5" font-weight="bold" text-anchor="middle">10</text>
<text class="se" transform="translate(692.2,1279) scale(1.04,1)" font-size="74.5" font-weight="bold" text-anchor="middle">20</text>
<text class="se" transform="translate(923.4,1279) scale(1.04,1)" font-size="74.5" font-weight="bold" text-anchor="middle">30</text>
<text class="se" transform="translate(1154.6,1279) scale(1.04,1)" font-size="74.5" font-weight="bold" text-anchor="middle">40</text>
<text class="se" transform="translate(1385.8,1279) scale(1.04,1)" font-size="74.5" font-weight="bold" text-anchor="middle">50</text>
<text class="se" transform="translate(1617,1279) scale(1.04,1)" font-size="74.5" font-weight="bold" text-anchor="middle">60</text>
<text class="se" transform="translate(1848.2,1279) scale(1.04,1)" font-size="74.5" font-weight="bold" text-anchor="middle">70</text>
<text class="se" transform="translate(1152.5,1369) scale(1.06,1)" font-size="85.5" font-weight="bold" text-anchor="middle">2 Theta (Deg.)</text>
<text class="se" transform="translate(285.2,669.3) rotate(-90) scale(0.951,1)" font-size="91" font-weight="bold" text-anchor="middle">Intenxity (a.u.)</text>
<text class="se" transform="translate(367,1127.2) scale(1.06,1)" font-size="72.5">(a)</text>
</g>
<g id="eds">
<path d="M166.6,1580V2553 M235,1580V2553 M303.4,1580V2553 M371.8,1580V2553 M440.1,1580V2553 M508.5,1580V2553 M576.9,1580V2553 M645.2,1580V2553 M713.6,1580V2553 M782,1580V2553 M850.4,1580V2553 M918.8,1580V2553 M987.1,1580V2553 M1055.5,1580V2553 M1123.9,1580V2553 M1192.2,1580V2553 M1260.6,1580V2553 M1329,1580V2553 M1397.4,1580V2553 M1465.8,1580V2553 M1534.1,1580V2553 M1602.5,1580V2553 M1670.9,1580V2553 M1739.2,1580V2553 M1807.6,1580V2553 M1876,1580V2553 M1944.4,1580V2553 M2012.8,1580V2553 M2081.1,1580V2553 M126,2520.9H2139 M126,2482.4H2139 M126,2443.8H2139 M126,2405.2H2139 M126,2366.7H2139 M126,2328.1H2139 M126,2289.5H2139 M126,2250.9H2139 M126,2212.4H2139 M126,2173.8H2139 M126,2135.2H2139 M126,2096.7H2139 M126,2058.1H2139 M126,2019.5H2139 M126,1981H2139 M126,1942.4H2139 M126,1903.8H2139 M126,1865.2H2139 M126,1826.7H2139 M126,1788.1H2139 M126,1749.5H2139 M126,1711H2139 M126,1672.4H2139 M126,1633.8H2139 M126,1595.2H2139" stroke="#ededed" stroke-width="4.2" fill="none"/>
<path d="M217,2558 219.5,2550 223.5,2530 225.3,2400 226.5,2170 227.6,1900 228.8,1750 230.2,1704 233.6,1704 235.2,1750 237,1900 239.8,2170 241.5,2400 243.5,2500 246,2545 249,2555 258,2557 264,2540 267,2497 273,2495 277,2522 285,2528 300,2518 330,2530 362.7,2536.5 375,2532 380,2536 395,2536 410,2533 425,2528 436.5,2521.5 445,2530 450.5,2536.5 460,2534 464,2528 468,2510 472,2490 476,2480.7 480,2490 485,2510 490,2528 495,2535 502,2532 509,2525 515,2528 525,2528 529.4,2524 532.5,2488 535,2464 536,2392 538.5,2270 542,2170 544,2060 545.5,1995 546.5,1982 548.5,1982 550,1995 552,2060 555.3,2170 559,2270 561.3,2392 571,2464 574.5,2488 584,2524 590,2538 596,2540 610,2544 656,2545 716,2546 723.5,2544 730,2528 736.7,2513.6 742,2520 748,2538 752,2546 764,2548 790,2545 800,2549 826,2549 831,2524 836,2488 839.6,2416 843,2344 847,2322 850.4,2317.8 854,2322 857.6,2344 860,2416 865,2488 869.7,2524 874,2545 880,2548 891,2546 898,2530 905.7,2519.6 912,2530 920,2546 925,2550 960,2550 966,2545 973,2538.8 980,2545 987,2550 1080,2551 1088,2548 1095,2535 1103,2524 1108.7,2522 1115,2525 1122,2538 1130,2548 1140,2551 1180,2553 1185,2549 1195,2549 1200,2553 1300,2554 1600,2555 1640,2554 1700,2556 1760,2558 1760,2560 217,2560Z" fill="#4ea4c8"/>
<rect x="251.3" y="2163" width="5" height="396" fill="#00ff00" fill-opacity="0.85"/>
<rect x="258.7" y="2163" width="5" height="396" fill="#ff0000" fill-opacity="0.85"/>
<rect x="276.2" y="2163" width="6" height="396" fill="#0000ff" fill-opacity="1"/>
<rect x="273.2" y="2198.8" width="5" height="360.2" fill="#0000ff" fill-opacity="1"/>
<rect x="284.4" y="2163" width="5.5" height="396" fill="#ff8000" fill-opacity="0.85"/>
<rect x="296.9" y="2163" width="5" height="277" fill="#b8b8c4" fill-opacity="1"/>
<rect x="303.6" y="2163" width="5" height="396" fill="#ffff00" fill-opacity="0.85"/>
<rect x="310.1" y="2163" width="5" height="396" fill="#00ffff" fill-opacity="0.85"/>
<rect x="328.9" y="2163" width="5" height="396" fill="#ff00ff" fill-opacity="0.85"/>
<rect x="347.9" y="2163" width="5" height="396" fill="#00ff80" fill-opacity="1"/>
<rect x="289.7" y="2440" width="4.4" height="119" fill="#ff8000" fill-opacity="0.7"/>
<rect x="294" y="2429.3" width="6.4" height="129.7" fill="#ff7a00" fill-opacity="1"/>
<rect x="315.2" y="2446.9" width="4.6" height="112.1" fill="#ff00ff" fill-opacity="1"/>
<rect x="315" y="2526" width="7" height="33" fill="#ff00ff" fill-opacity="1"/>
<rect x="323" y="2533" width="4" height="26" fill="#00ffff" fill-opacity="1"/>
<rect x="327.6" y="2480" width="4" height="79" fill="#bbb" fill-opacity="1"/>
<rect x="332.9" y="2480" width="5" height="79" fill="#00ff80" fill-opacity="1"/>
<rect x="340.9" y="2533" width="5" height="26" fill="#ff00ff" fill-opacity="1"/>
<rect x="348.6" y="2447" width="7" height="112" fill="#00ff80" fill-opacity="1"/>
<rect x="357" y="2533" width="4" height="26" fill="#9fd8a8" fill-opacity="1"/>
<rect x="264" y="2533" width="4" height="26" fill="#00ff00" fill-opacity="1"/>
<rect x="543.2" y="2163" width="5" height="396" fill="#ff0000" fill-opacity="0.85"/>
<rect x="548.5" y="2163" width="5" height="396" fill="#00ff00" fill-opacity="0.85"/>
<rect x="559.5" y="2392.3" width="5" height="166.7" fill="#ff0000" fill-opacity="1"/>
<rect x="507.2" y="2532.8" width="5" height="26.2" fill="#ff0000" fill-opacity="1"/>
<rect x="522.3" y="2532.8" width="5" height="26.2" fill="#ff0000" fill-opacity="1"/>
<rect x="568.2" y="2532.8" width="10" height="26.2" fill="#ff0000" fill-opacity="1"/>
<rect x="581.6" y="2532.8" width="4" height="26.2" fill="#ff0000" fill-opacity="1"/>
<rect x="589.8" y="2532.8" width="4" height="26.2" fill="#ff0000" fill-opacity="1"/>
<rect x="618.9" y="2532.8" width="5" height="26.2" fill="#ff0000" fill-opacity="1"/>
<rect x="737.8" y="2163" width="5" height="396" fill="#0000ff" fill-opacity="0.9"/>
<rect x="782.2" y="2511.2" width="5" height="47.8" fill="#0000ff" fill-opacity="0.9"/>
<rect x="848.6" y="2163" width="5.3" height="396" fill="#ff8000" fill-opacity="0.85"/>
<rect x="908.2" y="2511" width="7" height="48" fill="#ff7a00" fill-opacity="1"/>
<rect x="970.9" y="2163" width="5" height="396" fill="#00ffff" fill-opacity="0.85"/>
<rect x="1045.1" y="2506.4" width="7" height="52.6" fill="#00ffff" fill-opacity="1"/>
<rect x="1107.4" y="2163" width="6" height="396" fill="#ff00ff" fill-opacity="1"/>
<rect x="1104.6" y="2361" width="8" height="198" fill="#ff00ff" fill-opacity="1"/>
<rect x="1197.9" y="2507.6" width="5" height="51.4" fill="#ff00ff" fill-opacity="1"/>
<rect x="1205.9" y="2534" width="5" height="25" fill="#ff00ff" fill-opacity="1"/>
<rect x="1252.7" y="2163" width="7" height="396" fill="#00ff80" fill-opacity="0.9"/>
<rect x="1360.8" y="2505.2" width="5" height="53.8" fill="#00ff80" fill-opacity="1"/>
<rect x="1372.1" y="2534" width="5" height="25" fill="#00ff80" fill-opacity="1"/>
<rect x="1498" y="1588.5" width="632" height="538.5" fill="#fff"/>
<rect x="1500.3" y="1591.7" width="312.1" height="83.5" fill="#d9e2f3"/>
<rect x="1817" y="1591.7" width="310.8" height="83.5" fill="#d9e2f3"/>
<rect x="1500.3" y="1685.3" width="312.1" height="83" fill="#d9e2f3"/>
<rect x="1817" y="1685.3" width="310.8" height="83" fill="#d9e2f3"/>
<rect x="1500.3" y="1770.8" width="312.1" height="86.2" fill="#d9e2f3"/>
<rect x="1817" y="1770.8" width="310.8" height="86.2" fill="#d9e2f3"/>
<rect x="1500.3" y="1859.5" width="312.1" height="86.3" fill="#d9e2f3"/>
<rect x="1817" y="1859.5" width="310.8" height="86.3" fill="#d9e2f3"/>
<rect x="1500.3" y="1948.6" width="312.1" height="85.9" fill="#d9e2f3"/>
<rect x="1817" y="1948.6" width="310.8" height="85.9" fill="#d9e2f3"/>
<rect x="1500.3" y="2039.4" width="312.1" height="85.4" fill="#d9e2f3"/>
<rect x="1817" y="2039.4" width="310.8" height="85.4" fill="#d9e2f3"/>
<text class="se" transform="translate(1656.4,1654.8)" font-size="53" font-weight="bold" text-anchor="middle">Element</text>
<text class="se" transform="translate(1968.5,1654.8)" font-size="53" font-weight="bold" text-anchor="middle">Atom（%）</text>
<text class="se" transform="translate(1656.4,1745.1) scale(1.06,1)" font-size="51.5" text-anchor="middle">O</text>
<text class="se" transform="translate(1972.4,1745.1) scale(1.08,1)" font-size="51.5" text-anchor="middle">29.30</text>
<text class="se" transform="translate(1656.4,1833.4) scale(1.06,1)" font-size="51.5" text-anchor="middle">S</text>
<text class="se" transform="translate(1972.4,1833.4) scale(1.08,1)" font-size="51.5" text-anchor="middle">15.32</text>
<text class="se" transform="translate(1656.4,1922.6) scale(1.06,1)" font-size="51.5" text-anchor="middle">Ca</text>
<text class="se" transform="translate(1972.4,1922.6) scale(1.08,1)" font-size="51.5" text-anchor="middle">3.13</text>
<text class="se" transform="translate(1656.4,2010.9) scale(1.06,1)" font-size="51.5" text-anchor="middle">Ti</text>
<text class="se" transform="translate(1972.4,2010.9) scale(1.08,1)" font-size="51.5" text-anchor="middle">27.22</text>
<text class="se" transform="translate(1656.4,2102.4) scale(1.06,1)" font-size="51.5" text-anchor="middle">Mo</text>
<text class="se" transform="translate(1972.4,2102.4) scale(1.08,1)" font-size="51.5" text-anchor="middle">12.94</text>
<rect x="223.9" y="2081" width="63.2" height="81" fill="#00ff00" fill-opacity="0.75"/>
<text class="sa" transform="translate(249.5,2136) scale(0.677,1)" font-size="54" fill="#000" fill-opacity="0.78">S</text>
<rect x="227" y="2014" width="98" height="80.8" fill="#0000ff" fill-opacity="0.75"/>
<text class="sa" transform="translate(251.8,2069) scale(0.879,1)" font-size="54" fill="#fff" fill-opacity="0.78">Ca</text>
<rect x="287.1" y="2080.7" width="93.1" height="82" fill="#ff00ff" fill-opacity="0.75"/>
<text class="sa" transform="translate(310.5,2135.7) scale(0.877,1)" font-size="54" fill="#000" fill-opacity="0.78">Fe</text>
<rect x="310.3" y="2148.7" width="85.4" height="80.8" fill="#00ff80" fill-opacity="0.75"/>
<text class="sa" transform="translate(332.8,2203.7) scale(1.023,1)" font-size="54" fill="#000" fill-opacity="0.78">Ni</text>
<rect x="257.3" y="1947.2" width="89.6" height="80.8" fill="#00ffff" fill-opacity="0.75"/>
<text class="sa" transform="translate(281.3,2002.2) scale(0.943,1)" font-size="54" fill="#000" fill-opacity="0.78">Cr</text>
<rect x="250" y="1880.7" width="78.4" height="81.5" fill="#ff8000" fill-opacity="0.75"/>
<text class="sa" transform="translate(273.9,1935.7) scale(0.992,1)" font-size="54" fill="#000" fill-opacity="0.78">Ti</text>
<rect x="269.6" y="1813" width="73.8" height="81.8" fill="#ffff00" fill-opacity="0.75"/>
<text class="sa" transform="translate(293.1,1868) scale(0.972,1)" font-size="54" fill="#000" fill-opacity="0.78">O</text>
<rect x="201.4" y="1746" width="120" height="82" fill="#ff0000" fill-opacity="0.75"/>
<text class="sa" transform="translate(225,1801) scale(1.043,1)" font-size="54" fill="#000" fill-opacity="0.78">Mo</text>
<rect x="520.8" y="2082" width="63.9" height="80.7" fill="#00ff00" fill-opacity="0.75"/>
<text class="sa" transform="translate(546.4,2137) scale(0.677,1)" font-size="54" fill="#000" fill-opacity="0.78">S</text>
<rect x="487" y="2013" width="120.2" height="83" fill="#ff0000" fill-opacity="0.75"/>
<text class="sa" transform="translate(510.6,2068) scale(1.043,1)" font-size="54" fill="#000" fill-opacity="0.78">Mo</text>
<rect x="691" y="2081.2" width="97.8" height="82.4" fill="#0000ff" fill-opacity="0.75"/>
<text class="sa" transform="translate(715.8,2136.2) scale(0.879,1)" font-size="54" fill="#fff" fill-opacity="0.78">Ca</text>
<rect x="814.4" y="2082.4" width="78.8" height="80.5" fill="#ff8000" fill-opacity="0.75"/>
<text class="sa" transform="translate(838.3,2137.4) scale(0.992,1)" font-size="54" fill="#000" fill-opacity="0.78">Ti</text>
<rect x="929.7" y="2082.4" width="88.9" height="80.5" fill="#00ffff" fill-opacity="0.75"/>
<text class="sa" transform="translate(953.7,2137.4) scale(0.943,1)" font-size="54" fill="#000" fill-opacity="0.78">Cr</text>
<rect x="1066.6" y="2082.4" width="93.2" height="80.5" fill="#ff00ff" fill-opacity="0.75"/>
<text class="sa" transform="translate(1090,2137.4) scale(0.877,1)" font-size="54" fill="#000" fill-opacity="0.78">Fe</text>
<rect x="1215.3" y="2082.4" width="86" height="80.5" fill="#00ff80" fill-opacity="0.75"/>
<text class="sa" transform="translate(1237.8,2137.4) scale(1.023,1)" font-size="54" fill="#000" fill-opacity="0.78">Ni</text>
<rect x="120.6" y="1576.2" width="2026.9" height="983.8" fill="none" stroke="#2e2e2e" stroke-width="4.2"/>
<path d="M103,2559.9H119 M103,2521.3H119 M103,2482.8H119 M103,2444.2H119 M103,2405.6H119 M103,2367.1H119 M103,2328.5H119 M103,2289.9H119 M103,2251.3H119 M103,2212.8H119 M103,2174.2H119 M103,2135.6H119 M103,2097.1H119 M103,2058.5H119 M103,2019.9H119 M103,1981.4H119 M103,1942.8H119 M103,1904.2H119 M103,1865.6H119 M103,1827.1H119 M103,1788.5H119 M103,1749.9H119 M103,1711.4H119 M103,1672.8H119 M103,1634.2H119 M103,1595.7H119" stroke="#2e2e2e" stroke-width="4.2" fill="none"/>
<path d="M166.6,2561V2574 M235,2561V2585 M303.4,2561V2574 M371.8,2561V2574 M440.1,2561V2574 M508.5,2561V2585 M576.9,2561V2574 M645.2,2561V2574 M713.6,2561V2574 M782,2561V2585 M850.4,2561V2574 M918.8,2561V2574 M987.1,2561V2574 M1055.5,2561V2585 M1123.9,2561V2574 M1192.2,2561V2574 M1260.6,2561V2574 M1329,2561V2585 M1397.4,2561V2574 M1465.8,2561V2574 M1534.1,2561V2574 M1602.5,2561V2585 M1670.9,2561V2574 M1739.2,2561V2574 M1807.6,2561V2574 M1876,2561V2585 M1944.4,2561V2574 M2012.8,2561V2574 M2081.1,2561V2574" stroke="#2e2e2e" stroke-width="4.2" fill="none"/>
<text class="sa" transform="translate(85.5,2581.1)" font-size="54.5" fill="#1c1c24" text-anchor="end">0</text>
<text class="sa" transform="translate(85.5,2388.2)" font-size="54.5" fill="#1c1c24" text-anchor="end">5</text>
<text class="sa" transform="translate(85.5,2195.4)" font-size="54.5" fill="#1c1c24" text-anchor="end">10</text>
<text class="sa" transform="translate(85.5,2002.5)" font-size="54.5" fill="#1c1c24" text-anchor="end">15</text>
<text class="sa" transform="translate(85.5,1809.7)" font-size="54.5" fill="#1c1c24" text-anchor="end">20</text>
<text class="sa" transform="translate(85.5,1616.8)" font-size="54.5" fill="#1c1c24" text-anchor="end">25</text>
<text class="sa" transform="translate(235,2641)" font-size="54.5" fill="#1c1c24" text-anchor="middle">0</text>
<text class="sa" transform="translate(508.5,2641)" font-size="54.5" fill="#1c1c24" text-anchor="middle">2</text>
<text class="sa" transform="translate(782,2641)" font-size="54.5" fill="#1c1c24" text-anchor="middle">4</text>
<text class="sa" transform="translate(1055.5,2641)" font-size="54.5" fill="#1c1c24" text-anchor="middle">6</text>
<text class="sa" transform="translate(1329,2641)" font-size="54.5" fill="#1c1c24" text-anchor="middle">8</text>
<text class="sa" transform="translate(1602.5,2641)" font-size="54.5" fill="#1c1c24" text-anchor="middle">10</text>
<text class="sa" transform="translate(1876,2641)" font-size="54.5" fill="#1c1c24" text-anchor="middle">12</text>
<text class="sa" transform="translate(975,2711.6)" font-size="54" fill="#1c1c24">Energy [keV]</text>
<text class="sa" transform="translate(132.7,1559.6)" font-size="54" fill="#1c1c24">cps/eV</text>
<text class="se" transform="translate(2025,2504) scale(1.065,1)" font-size="70" fill="#2a2a2a">(b)</text>
</g>
</svg></body></html>
